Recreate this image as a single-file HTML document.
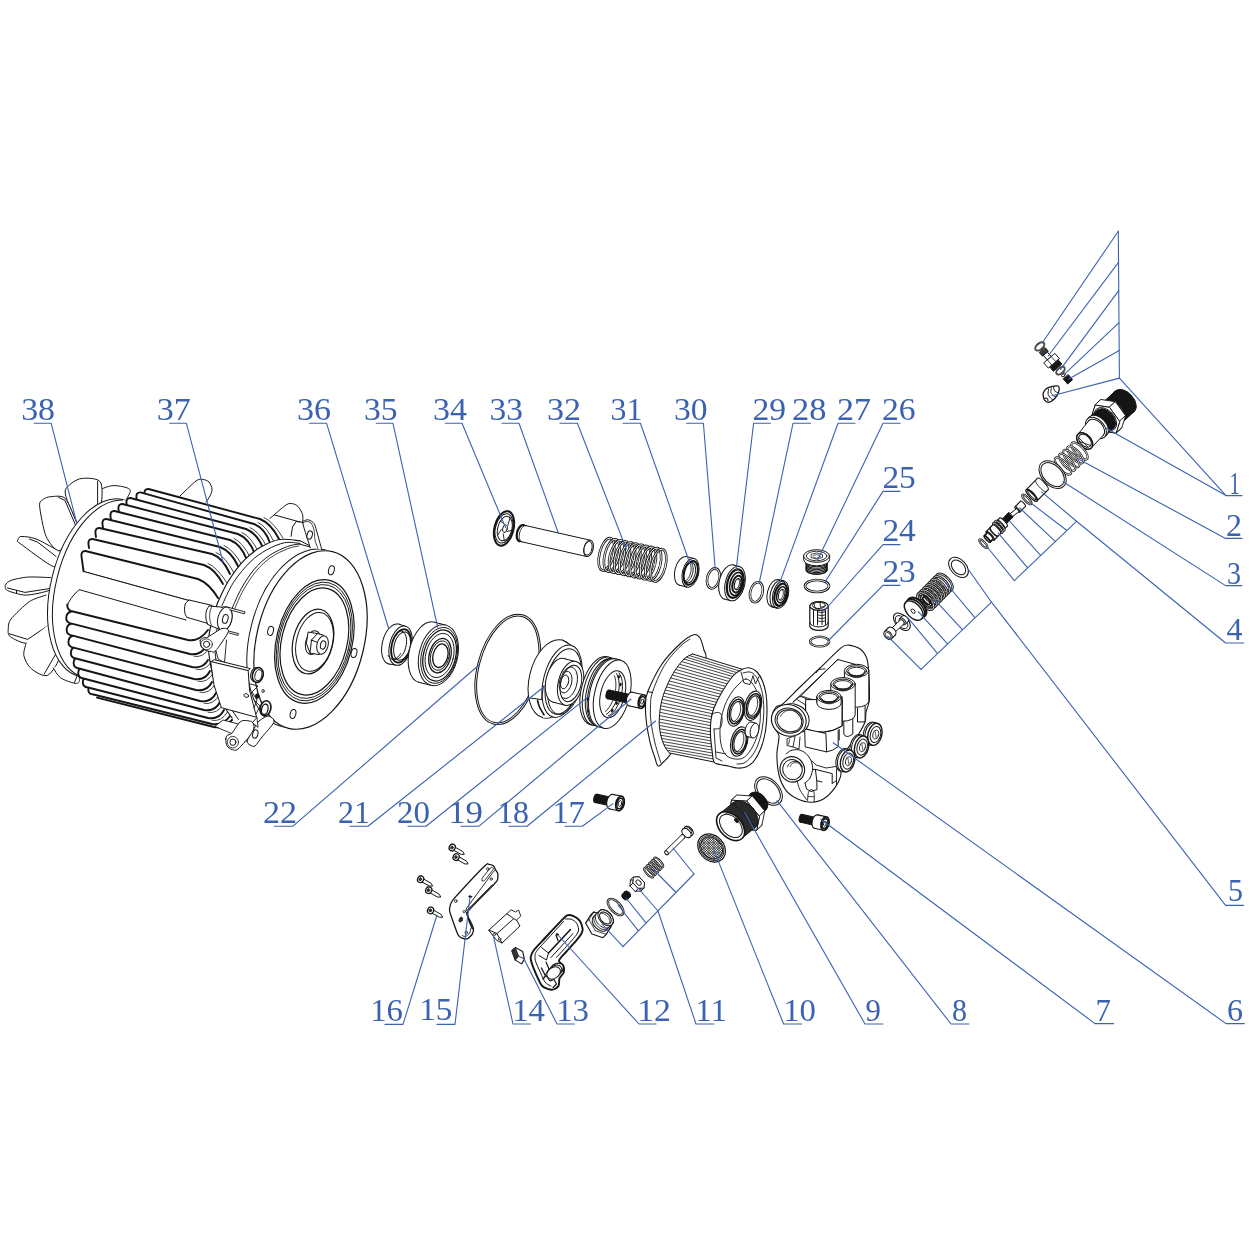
<!DOCTYPE html>
<html><head><meta charset="utf-8"><title>Exploded view</title>
<style>html,body{margin:0;padding:0;background:#fff}svg{display:block;will-change:transform}</style></head>
<body><svg width="1250" height="1250" viewBox="0 0 1250 1250" stroke-linecap="round" stroke-linejoin="round">
<rect width="1250" height="1250" fill="#fff"/>
<path d="M100.8 492 C100.9 491.6 99 490.4 101.2 489.3 C103.4 488.2 109.2 485.6 114 485.6 C118.8 485.6 127.5 487.2 129.7 489.3 C131.9 491.4 127.5 496.6 127 498" fill="white" stroke="#151515" stroke-width="1"/>
<path d="M77.3 524 C75.5 519.5 66.3 500 65.3 494 C64.3 488 68.2 486.2 70.8 483.8 C73.4 481.4 78.4 478.6 82.8 478.3 C87.2 478 97.6 478 100.3 482 C103 486 102.3 500.1 100.8 505 C99.3 509.9 91.6 513.5 90 515" fill="white" stroke="#151515" stroke-width="1"/>
<path d="M97.6 481.5 L97.6 505" fill="none" stroke="#151515" stroke-width="1"/>
<path d="M77.3 524.3 C75.7 520.9 68.9 502.2 65.3 498.5 C61.7 494.8 53.5 496.6 50.6 496.7 C47.7 496.8 44.7 498.2 43.2 499.4 C41.7 500.6 39.2 501 39.6 505.9 C40 510.8 43.4 530.2 46 536.2 C48.6 542.2 55.7 551.2 58.9 551 C62.1 550.8 68.5 537.1 70 535" fill="white" stroke="#151515" stroke-width="1"/>
<path d="M58.5 497.3 L65 500.5 L75.5 525" fill="none" stroke="#151515" stroke-width="1"/>
<path d="M58.9 551 C56.5 549.7 42 541.6 38.6 540 C35.2 538.4 31.5 537.6 29.4 537.2 C27.3 536.8 21.6 536.2 20.2 536.6 C18.8 537 17.5 540 17.5 540.8 C17.5 541.6 16 540.6 20.2 543.6 C24.4 546.6 48.5 565.2 53.4 566.6 C58.3 568 61 557.2 62 556" fill="white" stroke="#151515" stroke-width="1"/>
<path d="M29.4 539 L37.7 542.2 L56.1 556.5" fill="none" stroke="#151515" stroke-width="1"/>
<path d="M50.6 577.6 C47.5 577.5 32.9 576.7 27.6 577.1 C22.3 577.5 13.9 579.3 11 580.4 C8.1 581.5 6 583.7 5.5 585 C5 586.3 4.7 589.2 7.4 590.5 C10.1 591.8 20.3 595.1 25.8 595.1 C31.3 595.1 45.3 592 48.8 590.5 C52.3 589 51.6 584.9 52 584" fill="white" stroke="#151515" stroke-width="1"/>
<path d="M7.4 588 L25 592.4 L48.8 588.7" fill="none" stroke="#151515" stroke-width="1"/>
<path d="M16.5 590.5 L16.5 593" fill="none" stroke="#151515" stroke-width="1"/>
<path d="M46 595.1 C43.8 596 34.1 598.4 29.4 601.6 C24.7 604.8 13.8 615.5 11 619 C8.2 622.5 8.4 625.9 8.3 628.2 C8.2 630.5 7.4 634.5 10.1 636.5 C12.8 638.5 23.3 644.6 28.5 643 C33.7 641.4 45.7 628.7 48.8 624.6 C51.9 620.5 51.6 613.7 52 612" fill="white" stroke="#151515" stroke-width="1"/>
<path d="M9.2 633.7 L27.6 639.4 L48.2 625.5" fill="none" stroke="#151515" stroke-width="1"/>
<path d="M26 643.5 C25.7 645.3 23.1 652 23.9 655.8 C24.7 659.6 27.7 665.8 31.3 668.7 C34.9 671.6 43.5 677.4 47.8 675.2 C52.1 673 59.6 661.6 59.8 654 C59.9 646.4 50.4 629 48.8 624.6" fill="white" stroke="#151515" stroke-width="1"/>
<path d="M44.2 674 L57.5 651" fill="none" stroke="#151515" stroke-width="1"/>
<path d="M53.4 668 C54.5 669.5 57.2 675.6 60.7 677.9 C64.2 680.2 73.6 683.5 76.4 683.4 C79.2 683.3 80.1 680.5 79.1 677 C78.1 673.5 71.4 662.5 70 660" fill="white" stroke="#151515" stroke-width="1"/>
<path d="M74.5 682.5 L77 676" fill="none" stroke="#151515" stroke-width="1"/>
<ellipse cx="101" cy="588" rx="50.1" ry="91" transform="rotate(14 101 588)" fill="white" stroke="#151515" stroke-width="1"/>
<ellipse cx="105.9" cy="589.2" rx="50.1" ry="91" transform="rotate(14 105.9 589.2)" fill="white" stroke="#151515" stroke-width="1"/>
<path d="M123 499.7 L306.2 540.9 L259.8 727.1 L83.8 677.5Z" fill="white" stroke="none" stroke-width="0"/>
<path d="M180 496 C182.4 493.8 192.6 483.5 196 481 C199.4 478.5 201.1 479.4 203 479.5 C204.9 479.6 207.7 480.6 209 482 C210.3 483.4 211.8 486.9 212 489 C212.2 491.1 210.9 494.1 210 496 C209.1 497.9 206.6 501.1 206 502" fill="white" stroke="#151515" stroke-width="1"/>
<path d="M270 518.4 C272.4 516.4 282.6 507.2 286 505 C289.4 502.8 290.6 503.5 292.4 503.7 C294.2 503.9 296.5 504.9 298 506.5 C299.5 508.1 301.9 512.1 302.6 514.6 C303.3 517.1 302.6 521.7 302.6 523" fill="white" stroke="#151515" stroke-width="1"/>
<path d="M274.5 515 L300 522" fill="none" stroke="#151515" stroke-width="1"/>
<path d="M148.5 489 L260 519 Q271 523.4 279 539 L281 565 L146.8 515 L144.6 495 Q144 489.4 148.5 489 L148.5 489 Z" fill="white" stroke="none" stroke-width="0"/>
<path d="M279 539 Q271 523.4 260 519 L148.5 489 Q143.8 488.8 144.5 494.5 L145 498" fill="none" stroke="#151515" stroke-width="1.9"/>
<path d="M283 538 Q273 521.4 264 517.5" fill="none" stroke="#151515" stroke-width="0.8"/>
<path d="M140.5 492.4 L254 524 Q265 528.5 270 543 L272 569 L138.8 518.4 L136.6 498.4 Q136 492.8 140.5 492.4 L140.5 492.4 Z" fill="white" stroke="none" stroke-width="0"/>
<path d="M270 543 Q265 528.5 254 524 L140.5 492.4 Q135.8 492.2 136.5 497.9 L137 501.4" fill="none" stroke="#151515" stroke-width="1.9"/>
<path d="M274 542 Q267 526.5 258 522.5" fill="none" stroke="#151515" stroke-width="0.8"/>
<path d="M130.5 498 L246 529 Q257 533.4 263 548 L265 574 L128.8 524 L126.6 504 Q126 498.4 130.5 498 L130.5 498 Z" fill="white" stroke="none" stroke-width="0"/>
<path d="M263 548 Q257 533.4 246 529 L130.5 498 Q125.8 497.8 126.5 503.5 L127 507" fill="none" stroke="#151515" stroke-width="1.9"/>
<path d="M267 547 Q259 531.4 250 527.5" fill="none" stroke="#151515" stroke-width="0.8"/>
<path d="M122.5 504 L238 534 Q249 538.3 255 554 L257 580 L120.8 530 L118.6 510 Q118 504.4 122.5 504 L122.5 504 Z" fill="white" stroke="none" stroke-width="0"/>
<path d="M255 554 Q249 538.3 238 534 L122.5 504 Q117.8 503.8 118.5 509.5 L119 513" fill="none" stroke="#151515" stroke-width="1.9"/>
<path d="M259 553 Q251 536.3 242 532.5" fill="none" stroke="#151515" stroke-width="0.8"/>
<path d="M114.5 511 L230 540 Q241 544.2 247 560 L249 586 L112.8 537 L110.6 517 Q110 511.4 114.5 511 L114.5 511 Z" fill="white" stroke="none" stroke-width="0"/>
<path d="M247 560 Q241 544.2 230 540 L114.5 511 Q109.8 510.8 110.5 516.5 L111 520" fill="none" stroke="#151515" stroke-width="1.9"/>
<path d="M251 559 Q243 542.2 234 538.5" fill="none" stroke="#151515" stroke-width="0.8"/>
<path d="M106.5 519 L220 547 Q231 551.2 238 566 L240 592 L104.8 545 L102.6 525 Q102 519.4 106.5 519 L106.5 519 Z" fill="white" stroke="none" stroke-width="0"/>
<path d="M238 566 Q231 551.2 220 547 L106.5 519 Q101.8 518.8 102.5 524.5 L103 528" fill="none" stroke="#151515" stroke-width="1.9"/>
<path d="M242 565 Q233 549.2 224 545.5" fill="none" stroke="#151515" stroke-width="0.8"/>
<path d="M99.5 528 L212 554 Q223 558 230 574 L232 600 L97.8 554 L95.6 534 Q95 528.4 99.5 528 L99.5 528 Z" fill="white" stroke="none" stroke-width="0"/>
<path d="M230 574 Q223 558 212 554 L99.5 528 Q94.8 527.8 95.5 533.5 L96 537" fill="none" stroke="#151515" stroke-width="1.9"/>
<path d="M234 573 Q225 556 216 552.5" fill="none" stroke="#151515" stroke-width="0.8"/>
<path d="M92.5 539 L204 565 Q215 569.1 223 584 L225 610 L90.8 565 L88.6 545 Q88 539.4 92.5 539 L92.5 539 Z" fill="white" stroke="none" stroke-width="0"/>
<path d="M223 584 Q215 569.1 204 565 L92.5 539 Q87.8 538.8 88.5 544.5 L89 548" fill="none" stroke="#151515" stroke-width="1.9"/>
<path d="M227 583 Q217 567.1 208 563.5" fill="none" stroke="#151515" stroke-width="0.8"/>
<path d="M85.5 551 L198 579 Q209 583.2 218 598 L220 618.5 L83.8 571.5 L81.6 557 Q81 551.4 85.5 551 L85.5 551 Z" fill="white" stroke="none" stroke-width="0"/>
<path d="M218 598 Q209 583.2 198 579 L85.5 551 Q80.8 550.8 81.5 556.5 L83.6 571.5" fill="none" stroke="#151515" stroke-width="1.9"/>
<path d="M83.7 571.5 L216 608" fill="none" stroke="#151515" stroke-width="1"/>
<path d="M79.1 589.6 L83.7 571.5 L216 608 L226 640 L190 640Z" fill="white" stroke="none" stroke-width="0"/>
<path d="M83.7 571.5 L216 608" fill="none" stroke="#151515" stroke-width="1"/>
<path d="M97 697.6 L214 727 Q224 729 232 720" fill="white" stroke="#151515" stroke-width="1.9"/>
<path d="M93.5 694.5 L212 724 Q223 725.7 230 716 L228 692 L94.3 669.8 Q88.3 682.8 88.3 690.8 Q88.6 694.8 93.5 694.5 Z" fill="white" stroke="none" stroke-width="0"/>
<path d="M230 716 Q223 725.7 212 724 L93.5 694.5 Q88.5 694.4 88.3 690 Q88.3 684.8 93.3 683.3" fill="none" stroke="#151515" stroke-width="1.9"/>
<path d="M233.5 718 Q225 728.2 216 726.3" fill="none" stroke="#151515" stroke-width="0.8"/>
<path d="M88 687.5 L208 718 Q219 719.8 224 710 L222 686 L88.8 662.4 Q82.8 675.4 82.8 683.4 Q83.1 687.4 88 687.5 Z" fill="white" stroke="none" stroke-width="0"/>
<path d="M224 710 Q219 719.8 208 718 L88 687.5 Q83 687 82.8 682.6 Q82.8 677.4 87.8 675.9" fill="none" stroke="#151515" stroke-width="1.9"/>
<path d="M227.5 712 Q221 722.3 212 720.3" fill="none" stroke="#151515" stroke-width="0.8"/>
<path d="M83.5 678.5 L204 710 Q215 711.9 220 702 L218 678 L84.2 653 Q78.2 666 78.2 674 Q78.5 678 83.5 678.5 Z" fill="white" stroke="none" stroke-width="0"/>
<path d="M220 702 Q215 711.9 204 710 L83.5 678.5 Q78.4 677.6 78.2 673.2 Q78.2 668 83.2 666.5" fill="none" stroke="#151515" stroke-width="1.9"/>
<path d="M223.5 704 Q217 714.4 208 712.3" fill="none" stroke="#151515" stroke-width="0.8"/>
<path d="M79 668.5 L200 701 Q211 703 216 693 L214 669 L79.6 643 Q73.6 656 73.6 664 Q73.9 668 79 668.5 Z" fill="white" stroke="none" stroke-width="0"/>
<path d="M216 693 Q211 703 200 701 L79 668.5 Q73.8 667.6 73.6 663.2 Q73.6 658 78.6 656.5" fill="none" stroke="#151515" stroke-width="1.9"/>
<path d="M219.5 695 Q213 705.5 204 703.3" fill="none" stroke="#151515" stroke-width="0.8"/>
<path d="M76 658.5 L196 690 Q207 691.9 212 682 L210 658 L76.8 633 Q70.8 646 70.8 654 Q71.1 658 76 658.5 Z" fill="white" stroke="none" stroke-width="0"/>
<path d="M212 682 Q207 691.9 196 690 L76 658.5 Q71 657.6 70.8 653.2 Q70.8 648 75.8 646.5" fill="none" stroke="#151515" stroke-width="1.9"/>
<path d="M215.5 684 Q209 694.4 200 692.3" fill="none" stroke="#151515" stroke-width="0.8"/>
<path d="M73.6 647.6 L194 679 Q205 680.9 210 671 L208 647 L74.4 622 Q68.4 635 68.4 643 Q68.7 647 73.6 647.6 Z" fill="white" stroke="none" stroke-width="0"/>
<path d="M210 671 Q205 680.9 194 679 L73.6 647.6 Q68.6 646.6 68.4 642.2 Q68.4 637 73.4 635.5" fill="none" stroke="#151515" stroke-width="1.9"/>
<path d="M213.5 673 Q207 683.4 198 681.3" fill="none" stroke="#151515" stroke-width="0.8"/>
<path d="M72.7 635.6 L192 667 Q203 668.9 208 660 L206 636 L72.6 610 Q66.6 623 66.6 631 Q66.9 635 72.7 635.6 Z" fill="white" stroke="none" stroke-width="0"/>
<path d="M208 660 Q203 668.9 192 667 L72.7 635.6 Q66.8 634.6 66.6 630.2 Q66.6 625 71.6 623.5" fill="none" stroke="#151515" stroke-width="1.9"/>
<path d="M211.5 662 Q205 671.4 196 669.3" fill="none" stroke="#151515" stroke-width="0.8"/>
<path d="M71.8 623.6 L190 654 Q201 655.8 206 646 L204 622 L72.2 598 Q66.2 611 66.2 619 Q66.5 623 71.8 623.6 Z" fill="white" stroke="none" stroke-width="0"/>
<path d="M206 646 Q201 655.8 190 654 L71.8 623.6 Q66.4 622.6 66.2 618.2 Q66.2 613 71.2 611.5" fill="none" stroke="#151515" stroke-width="1.9"/>
<path d="M209.5 648 Q203 658.3 194 656.3" fill="none" stroke="#151515" stroke-width="0.8"/>
<path d="M71 611 L188 640 Q199 641.7 208 630 L206 606 L73.2 585.2 Q67.2 598.2 67.2 606.2 Q67.5 610.2 71 611 Z" fill="white" stroke="none" stroke-width="0"/>
<path d="M186 620 L79.1 589.6 Q69.5 598.5 67.2 605.7" fill="none" stroke="#151515" stroke-width="1"/>
<path d="M67.3 604.5 Q67 609.5 71 611 L188 640 Q199 642 208 630" fill="none" stroke="#151515" stroke-width="1.9"/>
<path d="M189 600 L212 605.4 L208 623.5 L187 617.3Z" fill="white" stroke="none" stroke-width="0"/>
<path d="M189 600 L212 605.4" fill="none" stroke="#151515" stroke-width="1"/>
<path d="M187 617.3 L208 623.5" fill="none" stroke="#151515" stroke-width="1"/>
<path d="M189 600 C188.4 600.7 186.1 602.4 185.3 604 C184.6 605.6 184.5 607.8 184.5 609.5 C184.5 611.2 184.9 613.2 185.3 614.5 C185.7 615.8 186.7 616.8 187 617.3" fill="none" stroke="#151515" stroke-width="1"/>
<path d="M217.5 603 C219.3 599.3 223.8 588.3 228.4 581 C233 573.7 239.4 565.1 245 559.4 C250.6 553.7 255.9 549.9 261.7 546.6 C267.5 543.3 273.2 540.5 279.6 539.5 C286 538.5 296.6 540.6 300 540.8 L325.5 550 L334.2 553.6 L342 559.8 L348.6 568.3 L353.9 579 L357.6 591.5 L359.6 605.4 L360 620.3 L358.6 635.8 L355.6 651.3 L351 666.4 L344.9 680.7 L337.6 693.7 L329.3 705 L320.1 714.3 L310.5 721.3 L300.6 725.7 L290.9 727.5 L281.5 726.6 L270 731 L258 731 L244 727 L232 718 L224 706 L217 690 L212 672 L209 655 L208.5 640 L212 620 L217.5 603Z" fill="white" stroke="none" stroke-width="0"/>
<path d="M217.5 603 C219.3 599.3 223.8 588.3 228.4 581 C233 573.7 239.4 565.1 245 559.4 C250.6 553.7 255.9 549.9 261.7 546.6 C267.5 543.3 273.2 540.5 279.6 539.5 C286 538.5 296.6 540.6 300 540.8" fill="none" stroke="#151515" stroke-width="1.2"/>
<path d="M222 605.4 C223.9 601.6 228.8 589.6 233.5 582.4 C238.2 575.2 244.6 567.4 250.2 562 C255.8 556.6 261.1 553 266.8 549.8 C272.6 546.6 279.2 543.8 284.7 542.7 C290.2 541.6 297.4 543.3 300 543.4" fill="none" stroke="#151515" stroke-width="1"/>
<path d="M232.2 608 C233.7 604.8 237.6 595.2 241.2 588.8 C244.8 582.4 249.3 575.1 254 569.6 C258.7 564.1 263.8 559.3 269.4 555.5 C274.9 551.7 282.4 548.5 287.3 546.6 C292.2 544.7 296.9 544.4 298.8 544" fill="none" stroke="#151515" stroke-width="1"/>
<path d="M234.6 609 C236.1 605.8 239.8 596.3 243.4 590 C247 583.7 251.4 576.7 256 571.2 C260.6 565.8 265.7 561.1 271 557.3 C276.3 553.5 283.4 550.5 288 548.6 C292.6 546.7 297 546.4 298.8 546" fill="none" stroke="#151515" stroke-width="0.8"/>
<path d="M217.5 603 C216.6 605.8 213.5 613.8 212 620 C210.5 626.2 209 634.2 208.5 640 C208 645.8 208.4 649.7 209 655 C209.6 660.3 210.7 666.2 212 672 C213.3 677.8 215 684.3 217 690 C219 695.7 221.5 701.3 224 706 C226.5 710.7 230.7 716 232 718" fill="none" stroke="#151515" stroke-width="1.1"/>
<path d="M218.5 621.5 C217.9 624.8 215.5 635.7 215 641.5 C214.5 647.3 214.9 651.2 215.5 656.5 C216.1 661.8 217.2 667.7 218.5 673.5 C219.8 679.3 221.5 685.8 223.5 691.5 C225.5 697.2 228 702.8 230.5 707.5 C233 712.2 237.2 717.5 238.5 719.5" fill="none" stroke="#151515" stroke-width="1"/>
<path d="M298.8 544 L321.8 549.8" fill="none" stroke="#151515" stroke-width="1"/>
<ellipse cx="303.5" cy="638.3" rx="53.7" ry="91" transform="rotate(14 303.5 638.3)" fill="white" stroke="#151515" stroke-width="1"/>
<path d="M325.5 550 L332.5 551.7 L288.5 728.3 L281.5 726.6Z" fill="white" stroke="none" stroke-width="0"/>
<ellipse cx="310.5" cy="640" rx="53.7" ry="91" transform="rotate(14 310.5 640)" fill="white" stroke="#151515" stroke-width="1.2"/>
<ellipse cx="331.4" cy="570.2" rx="2.8" ry="4.6" transform="rotate(14 331.4 570.2)" fill="white" stroke="#151515" stroke-width="1"/>
<ellipse cx="354" cy="653" rx="2.8" ry="4.6" transform="rotate(14 354 653)" fill="white" stroke="#151515" stroke-width="1"/>
<ellipse cx="293" cy="714" rx="2.8" ry="4.6" transform="rotate(14 293 714)" fill="white" stroke="#151515" stroke-width="1"/>
<ellipse cx="270.6" cy="630.9" rx="2.8" ry="4.6" transform="rotate(14 270.6 630.9)" fill="white" stroke="#151515" stroke-width="1"/>
<ellipse cx="314.4" cy="641.5" rx="37.8" ry="63" transform="rotate(14 314.4 641.5)" fill="none" stroke="#151515" stroke-width="1.2"/>
<ellipse cx="314.4" cy="641.5" rx="36.3" ry="60.5" transform="rotate(14 314.4 641.5)" fill="none" stroke="#151515" stroke-width="0.9"/>
<ellipse cx="314.4" cy="641.5" rx="34.8" ry="58" transform="rotate(14 314.4 641.5)" fill="none" stroke="#151515" stroke-width="0.9"/>
<ellipse cx="314.4" cy="641.5" rx="32.7" ry="54.5" transform="rotate(14 314.4 641.5)" fill="none" stroke="#151515" stroke-width="1.2"/>
<ellipse cx="313" cy="641.5" rx="19.8" ry="33" transform="rotate(14 313 641.5)" fill="none" stroke="#151515" stroke-width="1.2"/>
<ellipse cx="314.5" cy="641.9" rx="18" ry="30" transform="rotate(14 314.5 641.9)" fill="none" stroke="#151515" stroke-width="1"/>
<ellipse cx="313" cy="642.6" rx="7.4" ry="12" transform="rotate(14 313 642.6)" fill="white" stroke="#151515" stroke-width="1"/>
<path d="M308.5 632.1 L317.5 633.6 L323.5 635.1 L324 650.6 L319 654.6 L310 653.1 L306.5 643.6Z" fill="white" stroke="#151515" stroke-width="1"/>
<path d="M317.5 633.6 L311.5 640.1" fill="none" stroke="#151515" stroke-width="1"/>
<path d="M311.5 640.1 L310 653.1" fill="none" stroke="#151515" stroke-width="1"/>
<path d="M311.5 640.1 L318 642.6" fill="none" stroke="#151515" stroke-width="1"/>
<ellipse cx="322.5" cy="645" rx="5.6" ry="9.3" transform="rotate(14 322.5 645)" fill="white" stroke="#151515" stroke-width="1"/>
<ellipse cx="323.1" cy="645" rx="2.6" ry="4.2" transform="rotate(14 323.1 645)" fill="white" stroke="#151515" stroke-width="1"/>
<path d="M310.3 547.8 C309.2 544.2 303.8 528.1 303 524 C302.2 519.9 304.1 521.1 305 520.5 C305.9 519.9 307.6 519.5 309 520 C310.4 520.5 312.8 521.8 314 523.5 C315.2 525.2 315.5 527.3 316.7 531.2 C317.9 535.1 321 547 321.8 549.8" fill="white" stroke="#151515" stroke-width="1"/>
<ellipse cx="309.7" cy="535" rx="2.6" ry="4.2" transform="rotate(14 309.7 535)" fill="white" stroke="#151515" stroke-width="1"/>
<path d="M302.6 523 C303.1 522.8 304.7 521.5 306 521.5 C307.3 521.5 309.8 521.7 311 523 C312.2 524.3 313.4 527.5 314 530 C314.6 532.5 314.4 537.1 315 540 C315.6 542.9 317.6 547.6 318 549" fill="none" stroke="#151515" stroke-width="0.8"/>
<path d="M291.1 536.3 L292.5 527 L296 521.5 L302.6 522.2" fill="none" stroke="#151515" stroke-width="1"/>
<path d="M300.5 541 L309 545.3" fill="none" stroke="#151515" stroke-width="1"/>
<ellipse cx="224.8" cy="618.9" rx="7" ry="12" transform="rotate(14 224.8 618.9)" fill="white" stroke="#151515" stroke-width="1"/>
<ellipse cx="222.8" cy="618.4" rx="7" ry="12" transform="rotate(14 222.8 618.4)" fill="white" stroke="#151515" stroke-width="0.9"/>
<path d="M209.2 606 L222 608 L220 630 L208 624.6Z" fill="white" stroke="none" stroke-width="0"/>
<ellipse cx="224.8" cy="618.9" rx="7" ry="12" transform="rotate(14 224.8 618.9)" fill="white" stroke="#151515" stroke-width="1"/>
<path d="M209.2 606 L222.5 607.2" fill="none" stroke="#151515" stroke-width="1"/>
<path d="M208 624.6 L219.5 629.4" fill="none" stroke="#151515" stroke-width="1"/>
<path d="M209.2 606 C208.8 606.7 207.2 608.4 206.6 610 C206 611.6 205.9 613.8 205.8 615.5 C205.8 617.2 205.9 619 206.3 620.5 C206.7 622 207.7 623.9 208 624.6" fill="none" stroke="#151515" stroke-width="1"/>
<path d="M212.2 606.3 C211.9 606.9 210.8 608.5 210.4 610 C210 611.5 209.7 613.8 209.6 615.5 C209.5 617.2 209.7 618.9 210 620.5 C210.3 622.1 211.2 624.5 211.5 625.3" fill="none" stroke="#151515" stroke-width="0.8"/>
<ellipse cx="225.3" cy="618.9" rx="2.7" ry="4.5" transform="rotate(14 225.3 618.9)" fill="white" stroke="#151515" stroke-width="1"/>
<path d="M228.4 607.4 L245 611.8 L244.4 613.8 L229.7 609.8" fill="white" stroke="#151515" stroke-width="0.9"/>
<path d="M228.4 631 L238.6 633.6 L238 635.4 L229 633" fill="white" stroke="#151515" stroke-width="0.9"/>
<path d="M200.2 640.5 C199.9 641.6 200.4 644.7 201 646 C201.6 647.3 203.7 649.3 205 650 C206.3 650.7 209.5 651.4 211 651.5 C212.5 651.6 213.7 653.2 216 650.5 C218.3 647.8 227.6 634.4 228.4 631.5 C229.2 628.6 224.7 627.9 222 628.6 C219.3 629.3 210.5 635.7 208 637 C205.5 638.3 204 637.5 203 638 C202 638.5 200.5 639.4 200.2 640.5Z" fill="white" stroke="#151515" stroke-width="1"/>
<ellipse cx="206.6" cy="644.3" rx="3.1" ry="3.1" fill="white" stroke="#151515" stroke-width="1"/>
<ellipse cx="206.6" cy="644.3" rx="5.8" ry="5.4" fill="none" stroke="#151515" stroke-width="0.8"/>
<path d="M216 650.5 L218 659 L224.5 662.5 L226.5 640" fill="white" stroke="#151515" stroke-width="0.9"/>
<path d="M211 661.6 L214.3 659.7 L250.2 668.6 L248.2 670.6Z" fill="white" stroke="#151515" stroke-width="1"/>
<path d="M211 661.6 L248.2 670.6 L249.5 690 L256.6 717.3 L221.4 707.7 L214 685Z" fill="white" stroke="#151515" stroke-width="1"/>
<ellipse cx="246.3" cy="695.5" rx="2.4" ry="1.8" transform="rotate(20 246.3 695.5)" fill="white" stroke="#151515" stroke-width="0.9"/>
<ellipse cx="255.6" cy="674.5" rx="4.8" ry="7.2" transform="rotate(14 255.6 674.5)" fill="white" stroke="#151515" stroke-width="1"/>
<ellipse cx="257.8" cy="675" rx="5.3" ry="7.5" transform="rotate(14 257.8 675)" fill="white" stroke="#151515" stroke-width="1.6"/>
<ellipse cx="258.4" cy="675.2" rx="3.4" ry="5.6" transform="rotate(14 258.4 675.2)" fill="white" stroke="#151515" stroke-width="1"/>
<path d="M250 684 L258 686 L252 692 L257 700 L254 708" fill="none" stroke="#151515" stroke-width="0.9"/>
<ellipse cx="257.2" cy="696.2" rx="1.8" ry="2.4" fill="#151515" stroke="#151515" stroke-width="0.8"/>
<ellipse cx="263" cy="691" rx="1.2" ry="1.6" fill="white" stroke="#151515" stroke-width="0.8"/>
<ellipse cx="265.5" cy="708.3" rx="5.3" ry="7.6" transform="rotate(14 265.5 708.3)" fill="white" stroke="#151515" stroke-width="1.6"/>
<ellipse cx="264.8" cy="709.3" rx="3.2" ry="5.2" transform="rotate(14 264.8 709.3)" fill="white" stroke="#151515" stroke-width="1.3"/>
<path d="M254 700 L260 706 L256 714" fill="none" stroke="#151515" stroke-width="0.9"/>
<path d="M215 726.2 L223 720 L246 726 L236 735Z" fill="white" stroke="#151515" stroke-width="0.9"/>
<path d="M225.8 739 C225.8 740.4 226.2 744.6 227 746 C227.8 747.4 230.5 749.1 232 749.5 C233.5 749.9 235.2 751.3 238 749 C240.8 746.7 250.7 735.5 252.7 732 C254.7 728.5 254.2 723.9 252.7 722.4 C251.2 720.9 244 719.7 241.2 721.1 C238.4 722.5 233.9 731.1 232 733 C230.1 734.9 227.8 734.7 227 735.5 C226.2 736.3 225.8 737.6 225.8 739Z" fill="white" stroke="#151515" stroke-width="1"/>
<ellipse cx="232.9" cy="742.2" rx="3" ry="3.2" fill="white" stroke="#151515" stroke-width="1"/>
<ellipse cx="232.9" cy="742.2" rx="5.6" ry="5.8" fill="none" stroke="#151515" stroke-width="0.8"/>
<path d="M247 741 C246.6 742.9 248.9 744.3 250 745 C251.1 745.7 253.4 747.1 255 746 C256.6 744.9 259.5 740.2 262 737 C264.5 733.8 273.2 724.8 274 722 C274.8 719.2 270.1 716 268 716 C265.9 716 260 720 258 722 C256 724 254.5 728.5 253 731 C251.5 733.5 247.4 739.1 247 741Z" fill="white" stroke="#151515" stroke-width="1"/>
<ellipse cx="255.3" cy="734" rx="2.6" ry="4.2" transform="rotate(14 255.3 734)" fill="white" stroke="#151515" stroke-width="1"/>
<path d="M252.7 722.4 L257 717.5 L258 727Z" fill="white" stroke="#151515" stroke-width="0.9"/>
<ellipse cx="393.6" cy="644" rx="11.3" ry="20.5" transform="rotate(14 393.6 644)" fill="white" stroke="#151515" stroke-width="1"/>
<path d="M398.6 624.1 L405.4 626.3 L395.8 665.1 L388.6 663.9Z" fill="white" stroke="none" stroke-width="0"/>
<path d="M398.6 624.1 L405.4 626.3" fill="none" stroke="#151515" stroke-width="1"/>
<path d="M388.6 663.9 L395.8 665.1" fill="none" stroke="#151515" stroke-width="1"/>
<ellipse cx="400.6" cy="645.7" rx="11" ry="20" transform="rotate(14 400.6 645.7)" fill="white" stroke="#151515" stroke-width="1"/>
<ellipse cx="401.1" cy="645.9" rx="9.4" ry="17" transform="rotate(14 401.1 645.9)" fill="white" stroke="#151515" stroke-width="1.8"/>
<ellipse cx="402.1" cy="646.1" rx="8" ry="14.5" transform="rotate(14 402.1 646.1)" fill="white" stroke="#151515" stroke-width="1"/>
<path d="M398.7 631.3 C399 631.3 399.8 631 400.4 631 C400.9 631 401.4 631.1 401.9 631.2 C402.4 631.4 402.8 631.6 403.3 631.9 C403.7 632.2 404.1 632.7 404.5 633.1 C404.8 633.6 405.1 634.2 405.4 634.8 C405.7 635.4 405.9 636.1 406.1 636.8 C406.3 637.5 406.4 638.3 406.5 639.2 C406.6 640 406.6 640.8 406.6 641.7 C406.6 642.6 406.5 643.5 406.4 644.4 C406.2 645.3 406.1 646.2 405.8 647.1 C405.6 648 405.3 648.9 405 649.8 C404.7 650.6 404.4 651.5 404 652.3 C403.6 653 403.1 653.8 402.7 654.5 C402.2 655.2 401.7 655.8 401.2 656.4 C400.7 656.9 400.2 657.4 399.7 657.8 C399.1 658.2 398.6 658.6 398 658.8 C397.5 659.1 397 659.3 396.4 659.3 C395.9 659.4 395.4 659.4 394.9 659.3 C394.4 659.2 393.9 659.1 393.4 658.8 C393 658.5 392.4 657.9 392.2 657.8" fill="none" stroke="#151515" stroke-width="1"/>
<path d="M400.7 653.5 C400.6 653.7 400.3 654.1 400.1 654.4 C399.9 654.7 399.7 655 399.5 655.3 C399.3 655.6 399 655.8 398.8 656.1 C398.6 656.3 398.3 656.6 398.1 656.8 C397.9 657 397.6 657.2 397.4 657.4 C397.2 657.6 396.9 657.8 396.7 658 C396.4 658.1 396.2 658.3 396 658.4 C395.7 658.5 395.5 658.6 395.2 658.7 C395 658.8 394.7 658.9 394.5 659 C394.3 659.1 394 659.1 393.8 659.1 C393.6 659.2 393.3 659.2 393.1 659.2 C392.9 659.2 392.6 659.2 392.4 659.1 C392.2 659.1 391.9 659.1 391.7 659 C391.5 658.9 391.3 658.8 391.1 658.7 C390.9 658.6 390.7 658.5 390.5 658.4 C390.3 658.3 390.1 658.1 389.9 657.9 C389.7 657.8 389.5 657.6 389.4 657.4 C389.2 657.2 389 657 388.9 656.8 C388.7 656.6 388.6 656.3 388.4 656.1 C388.3 655.8 388.1 655.4 388 655.3" fill="none" stroke="#151515" stroke-width="1"/>
<ellipse cx="426.4" cy="652.2" rx="17.1" ry="31" transform="rotate(14 426.4 652.2)" fill="white" stroke="#151515" stroke-width="1"/>
<path d="M433.9 622.1 L445.9 625.1 L430.9 685.3 L418.9 682.3Z" fill="white" stroke="none" stroke-width="0"/>
<path d="M433.9 622.1 L445.9 625.1" fill="none" stroke="#151515" stroke-width="1"/>
<path d="M418.9 682.3 L430.9 685.3" fill="none" stroke="#151515" stroke-width="1"/>
<ellipse cx="438.4" cy="655.2" rx="19.2" ry="31" transform="rotate(14 438.4 655.2)" fill="white" stroke="#151515" stroke-width="1"/>
<ellipse cx="439.2" cy="655.4" rx="17.7" ry="28.5" transform="rotate(14 439.2 655.4)" fill="none" stroke="#151515" stroke-width="0.9"/>
<ellipse cx="439.6" cy="655.5" rx="16.1" ry="26" transform="rotate(14 439.6 655.5)" fill="none" stroke="#151515" stroke-width="1.3"/>
<ellipse cx="439.6" cy="655.5" rx="13.9" ry="22.5" transform="rotate(14 439.6 655.5)" fill="none" stroke="#151515" stroke-width="0.9"/>
<ellipse cx="440" cy="655.6" rx="10.8" ry="17.5" transform="rotate(14 440 655.6)" fill="none" stroke="#151515" stroke-width="1.3"/>
<ellipse cx="440" cy="655.6" rx="9.3" ry="15" transform="rotate(14 440 655.6)" fill="none" stroke="#151515" stroke-width="0.9"/>
<ellipse cx="440.4" cy="655.7" rx="7.4" ry="12" transform="rotate(14 440.4 655.7)" fill="none" stroke="#151515" stroke-width="1.3"/>
<ellipse cx="507.8" cy="669.4" rx="30.5" ry="56.5" transform="rotate(15 507.8 669.4)" fill="white" stroke="#151515" stroke-width="1"/>
<ellipse cx="507.8" cy="669.4" rx="28.7" ry="54.7" transform="rotate(15 507.8 669.4)" fill="white" stroke="#151515" stroke-width="1"/>
<ellipse cx="552.6" cy="678.9" rx="23.2" ry="40" transform="rotate(14 552.6 678.9)" fill="white" stroke="#151515" stroke-width="1"/>
<path d="M562.3 640.1 L571 645.3 L553 717.1 L542.9 717.7Z" fill="white" stroke="none" stroke-width="0"/>
<path d="M562.3 640.1 L571 645.3" fill="none" stroke="#151515" stroke-width="1"/>
<ellipse cx="562" cy="681.2" rx="18.5" ry="37" transform="rotate(14 562 681.2)" fill="white" stroke="#151515" stroke-width="1"/>
<ellipse cx="563.2" cy="681.5" rx="16.8" ry="33.5" transform="rotate(14 563.2 681.5)" fill="white" stroke="#151515" stroke-width="1"/>
<path d="M579.9 691.6 C579.6 692.3 578.8 694.4 578.3 695.8 C577.7 697.1 577 698.5 576.4 699.7 C575.7 701 575 702.2 574.3 703.3 C573.6 704.4 572.8 705.5 572.1 706.5 C571.3 707.5 570.5 708.4 569.7 709.2 C568.9 710 568 710.7 567.2 711.4 C566.4 712 565.5 712.5 564.7 713 C563.9 713.4 563.1 713.7 562.2 714 C561.4 714.2 560.6 714.3 559.8 714.4 C559 714.4 558.3 714.3 557.5 714.1 C556.8 713.9 556.1 713.6 555.4 713.3 C554.7 712.9 554 712.4 553.4 711.8 C552.8 711.2 552.2 710.5 551.7 709.7 C551.2 709 550.7 708.1 550.2 707.1 C549.8 706.2 549.4 705.2 549.1 704.1 C548.8 703 548.5 701.8 548.3 700.6 C548 699.3 547.9 698 547.8 696.7 C547.7 695.4 547.6 694 547.6 692.5 C547.6 691.1 547.7 689.7 547.8 688.2 C547.9 686.7 548.3 684.5 548.3 683.7" fill="none" stroke="#151515" stroke-width="1"/>
<path d="M530.4 698 L541.6 699.6 L543.4 686" fill="none" stroke="#151515" stroke-width="1"/>
<path d="M537.6 700.4 C537.9 701.5 538.4 704.6 539.5 707 C540.6 709.4 543.2 713.5 544 714.8" fill="none" stroke="#151515" stroke-width="1.6"/>
<ellipse cx="558.5" cy="680.4" rx="12.4" ry="22.5" transform="rotate(14 558.5 680.4)" fill="white" stroke="#151515" stroke-width="1"/>
<path d="M563.9 658.6 L576 661.6 L565.2 705.2 L553.1 702.2Z" fill="white" stroke="none" stroke-width="0"/>
<path d="M563.9 658.6 L576 661.6" fill="none" stroke="#151515" stroke-width="1"/>
<path d="M553.1 702.2 L565.2 705.2" fill="none" stroke="#151515" stroke-width="1"/>
<ellipse cx="570.6" cy="683.4" rx="12.4" ry="22.5" transform="rotate(14 570.6 683.4)" fill="white" stroke="#151515" stroke-width="1"/>
<ellipse cx="570.9" cy="683.5" rx="10.2" ry="18.5" transform="rotate(14 570.9 683.5)" fill="white" stroke="#151515" stroke-width="1"/>
<path d="M562.6 673.2 C562.9 672.8 563.8 671.4 564.5 670.7 C565.1 669.9 565.8 669.3 566.5 668.7 C567.2 668.2 568 667.8 568.7 667.5 C569.4 667.3 570.1 667.1 570.7 667.1 C571.4 667.1 572.1 667.3 572.7 667.5 C573.3 667.8 573.9 668.2 574.4 668.7 C574.9 669.2 575.4 669.9 575.8 670.6 C576.2 671.3 576.6 672.2 576.8 673.1 C577.1 674 577.3 675.1 577.4 676.1 C577.5 677.2 577.5 678.3 577.4 679.5 C577.4 680.6 577.3 681.8 577 683 C576.8 684.2 576.5 685.4 576.2 686.5 C575.8 687.7 575.4 688.8 574.9 689.9 C574.4 690.9 573.9 691.9 573.3 692.8 C572.7 693.7 572.1 694.6 571.4 695.3 C570.7 696 570 696.6 569.3 697.1 C568.6 697.6 567.9 697.9 567.2 698.2 C566.5 698.4 565.8 698.5 565.1 698.5 C564.5 698.4 563.8 698.2 563.2 697.9 C562.6 697.6 561.8 696.9 561.5 696.7" fill="none" stroke="#151515" stroke-width="1"/>
<ellipse cx="565.6" cy="682.2" rx="6.1" ry="11" transform="rotate(14 565.6 682.2)" fill="none" stroke="#151515" stroke-width="0.9"/>
<ellipse cx="564.6" cy="681.9" rx="3.9" ry="7" transform="rotate(14 564.6 681.9)" fill="none" stroke="#151515" stroke-width="0.9"/>
<ellipse cx="598.8" cy="690.7" rx="17.5" ry="35" transform="rotate(14 598.8 690.7)" fill="white" stroke="#151515" stroke-width="1"/>
<ellipse cx="601.2" cy="691.3" rx="17.5" ry="35" transform="rotate(14 601.2 691.3)" fill="white" stroke="#151515" stroke-width="1"/>
<ellipse cx="603.7" cy="691.9" rx="17" ry="34" transform="rotate(14 603.7 691.9)" fill="white" stroke="#151515" stroke-width="1"/>
<ellipse cx="606.1" cy="692.5" rx="17.5" ry="35" transform="rotate(14 606.1 692.5)" fill="white" stroke="#151515" stroke-width="1"/>
<ellipse cx="616.2" cy="706" rx="1" ry="1.8" transform="rotate(14 616.2 706)" fill="#151515" stroke="#151515" stroke-width="0.5"/>
<ellipse cx="610" cy="716.1" rx="1" ry="1.8" transform="rotate(14 610 716.1)" fill="#151515" stroke="#151515" stroke-width="0.5"/>
<ellipse cx="602.7" cy="721.7" rx="1" ry="1.8" transform="rotate(14 602.7 721.7)" fill="#151515" stroke="#151515" stroke-width="0.5"/>
<ellipse cx="592.4" cy="719.1" rx="1" ry="1.8" transform="rotate(14 592.4 719.1)" fill="#151515" stroke="#151515" stroke-width="0.5"/>
<ellipse cx="588.7" cy="710.8" rx="1" ry="1.8" transform="rotate(14 588.7 710.8)" fill="#151515" stroke="#151515" stroke-width="0.5"/>
<ellipse cx="587.9" cy="698.9" rx="1" ry="1.8" transform="rotate(14 587.9 698.9)" fill="#151515" stroke="#151515" stroke-width="0.5"/>
<ellipse cx="607.5" cy="692.9" rx="17.5" ry="35" transform="rotate(14 607.5 692.9)" fill="white" stroke="#151515" stroke-width="1"/>
<path d="M616 658.9 L620.7 660.2 L603.7 728.2 L599.1 726.8Z" fill="white" stroke="none" stroke-width="0"/>
<path d="M616 658.9 L620.7 660.2" fill="none" stroke="#151515" stroke-width="1"/>
<path d="M599.1 726.8 L603.7 728.2" fill="none" stroke="#151515" stroke-width="1"/>
<ellipse cx="612.2" cy="694.2" rx="17.5" ry="35" transform="rotate(14 612.2 694.2)" fill="white" stroke="#151515" stroke-width="1"/>
<ellipse cx="612.7" cy="694.3" rx="12" ry="24" transform="rotate(14 612.7 694.3)" fill="white" stroke="#151515" stroke-width="1"/>
<path d="M618.9 673 C619.1 673.3 619.6 674 619.9 674.5 C620.2 675 620.5 675.6 620.8 676.2 C621 676.8 621.3 677.5 621.5 678.2 C621.7 678.9 621.8 679.6 622 680.4 C622.1 681.1 622.2 681.9 622.3 682.7 C622.4 683.6 622.4 684.4 622.4 685.3 C622.4 686.2 622.4 687.1 622.4 688 C622.3 688.9 622.2 689.8 622.1 690.7 C622 691.7 621.9 692.6 621.7 693.5 C621.5 694.5 621.3 695.4 621.1 696.3 C620.9 697.3 620.6 698.2 620.3 699.1 C620 700 619.7 700.9 619.4 701.8 C619.1 702.6 618.7 703.5 618.3 704.3 C617.9 705.1 617.5 706 617.1 706.7 C616.7 707.5 616.2 708.2 615.8 708.9 C615.3 709.6 614.8 710.3 614.4 710.9 C613.9 711.5 613.4 712.1 612.9 712.6 C612.4 713.1 611.9 713.6 611.4 714 C610.8 714.4 610.3 714.8 609.8 715.1 C609.3 715.4 608.5 715.8 608.3 715.9" fill="none" stroke="#151515" stroke-width="1"/>
<path d="M616.5 673.7 C616.6 674 617 674.7 617.3 675.2 C617.5 675.8 617.8 676.3 618 676.9 C618.2 677.5 618.3 678.2 618.5 678.8 C618.6 679.5 618.8 680.2 618.9 680.9 C619 681.6 619.1 682.4 619.1 683.2 C619.1 683.9 619.2 684.7 619.2 685.5 C619.2 686.3 619.1 687.1 619.1 688 C619 688.8 618.9 689.6 618.8 690.5 C618.7 691.3 618.6 692.2 618.4 693 C618.3 693.9 618.1 694.7 617.9 695.6 C617.6 696.4 617.4 697.3 617.2 698.1 C616.9 698.9 616.6 699.7 616.3 700.5 C616 701.3 615.7 702.1 615.4 702.9 C615 703.6 614.7 704.4 614.3 705.1 C613.9 705.8 613.5 706.5 613.1 707.1 C612.7 707.8 612.3 708.4 611.9 709 C611.4 709.6 611 710.2 610.6 710.7 C610.1 711.2 609.6 711.7 609.2 712.1 C608.7 712.5 608.3 712.9 607.8 713.3 C607.3 713.6 606.6 714 606.4 714.2" fill="none" stroke="#151515" stroke-width="1"/>
<path d="M614.4 675.7 C614.5 675.9 614.8 676.6 614.9 677.2 C615.1 677.7 615.2 678.2 615.3 678.8 C615.5 679.4 615.6 679.9 615.6 680.5 C615.7 681.1 615.8 681.8 615.8 682.4 C615.9 683 615.9 683.7 615.9 684.3 C615.9 685 615.9 685.7 615.9 686.3 C615.8 687 615.8 687.7 615.7 688.4 C615.6 689.1 615.6 689.8 615.5 690.5 C615.3 691.2 615.2 691.9 615.1 692.6 C614.9 693.3 614.8 694 614.6 694.7 C614.4 695.4 614.3 696.1 614 696.8 C613.8 697.5 613.6 698.2 613.4 698.8 C613.1 699.5 612.9 700.2 612.6 700.8 C612.4 701.5 612.1 702.1 611.8 702.7 C611.5 703.3 611.2 703.9 610.9 704.5 C610.6 705.1 610.2 705.6 609.9 706.2 C609.6 706.7 609.2 707.2 608.9 707.7 C608.5 708.2 608.1 708.7 607.8 709.1 C607.4 709.6 607 710 606.7 710.4 C606.3 710.8 605.7 711.3 605.5 711.4" fill="none" stroke="#151515" stroke-width="0.9"/>
<ellipse cx="618.9" cy="676.9" rx="0.9" ry="1.6" transform="rotate(14 618.9 676.9)" fill="#151515" stroke="#151515" stroke-width="0.5"/>
<ellipse cx="620.4" cy="684.6" rx="0.9" ry="1.6" transform="rotate(14 620.4 684.6)" fill="#151515" stroke="#151515" stroke-width="0.5"/>
<ellipse cx="619.5" cy="694" rx="0.9" ry="1.6" transform="rotate(14 619.5 694)" fill="#151515" stroke="#151515" stroke-width="0.5"/>
<ellipse cx="616.6" cy="703.2" rx="0.9" ry="1.6" transform="rotate(14 616.6 703.2)" fill="#151515" stroke="#151515" stroke-width="0.5"/>
<ellipse cx="612.1" cy="710.6" rx="0.9" ry="1.6" transform="rotate(14 612.1 710.6)" fill="#151515" stroke="#151515" stroke-width="0.5"/>
<ellipse cx="608.5" cy="694.4" rx="2.4" ry="4.4" transform="rotate(14 608.5 694.4)" fill="#151515" stroke="#151515" stroke-width="1"/>
<path d="M609.6 690.1 L631.1 694.7 L628.9 703.3 L607.4 698.7Z" fill="#151515" stroke="#151515" stroke-width="1"/>
<ellipse cx="630" cy="699" rx="2.4" ry="4.4" transform="rotate(14 630 699)" fill="#151515" stroke="#151515" stroke-width="1"/>
<ellipse cx="630.5" cy="699" rx="3.9" ry="7" transform="rotate(14 630.5 699)" fill="white" stroke="#151515" stroke-width="1.1"/>
<path d="M632.2 692.2 L643.9 694.8 L640.5 708.4 L628.8 705.8Z" fill="white" stroke="none" stroke-width="0"/>
<path d="M632.2 692.2 L643.9 694.8" fill="none" stroke="#151515" stroke-width="1.1"/>
<path d="M628.8 705.8 L640.5 708.4" fill="none" stroke="#151515" stroke-width="1.1"/>
<ellipse cx="642.2" cy="701.6" rx="3.9" ry="7" transform="rotate(14 642.2 701.6)" fill="white" stroke="#151515" stroke-width="1.5"/>
<ellipse cx="642.2" cy="701.6" rx="2.8" ry="5" transform="rotate(14 642.2 701.6)" fill="white" stroke="#151515" stroke-width="1.4"/>
<ellipse cx="642.2" cy="701.6" rx="1.4" ry="2.6" transform="rotate(14 642.2 701.6)" fill="white" stroke="#151515" stroke-width="0.9"/>
<path d="M693.8 634.7 C690.6 635.5 686.3 638.1 681 643 C675.7 647.9 667.5 655.9 662 664 C656.5 672.1 650.5 684.9 647.7 691.7 C645 698.5 645.7 700 645.5 705 C645.3 710 645.6 715.8 646.4 722 C647.1 728.2 648.6 736 650 742 C651.4 748 653.7 754 655 758 C656.3 762 656.5 765.4 658 766 C659.5 766.6 662.1 763.2 664 761.5 C665.9 759.8 666.7 759.3 669.4 755.7 C672.1 752.1 674.9 749.3 680 740 C685.1 730.7 695.7 713.3 700 700 C704.3 686.7 705.3 668.3 706 660 C706.7 651.7 705 653.7 704 650 C703 646.3 701.7 640.5 700 638 C698.3 635.5 697 633.9 693.8 634.7Z" fill="white" stroke="#151515" stroke-width="1.1"/>
<path d="M690 639 C688.2 640.4 683.3 643 679 647.5 C674.7 652 668.4 658.6 664 666 C659.6 673.4 654.8 685.3 652.5 692 C650.2 698.7 650.8 701 650.5 706 C650.2 711 650.3 716.2 651 722 C651.7 727.8 653.2 735.2 654.5 741 C655.8 746.8 657.9 753.3 659 757 C660.1 760.7 660.7 762 661 763" fill="none" stroke="#151515" stroke-width="0.9"/>
<path d="M647.7 691.7 L652.5 692.5" fill="none" stroke="#151515" stroke-width="1"/>
<path d="M692.5 654 C691.1 654.8 687.1 656 684 659 C680.9 662 677 667.2 674 672 C671 676.8 668.2 682.7 666 688 C663.8 693.3 662.1 698.3 661 704 C659.9 709.7 659.2 717.1 659.2 722.4 C659.2 727.7 660 731.9 661 736 C662 740.1 663.6 744.2 665 747 C666.4 749.8 668.7 752 669.4 753 L714 762 L712 750 L710.5 735 L711 720 L714 708 L722 692 L733 676 L742.4 669.3Z" fill="white" stroke="none" stroke-width="0"/>
<path d="M692.5 654 C691.1 654.8 687.1 656 684 659 C680.9 662 677 667.2 674 672 C671 676.8 668.2 682.7 666 688 C663.8 693.3 662.1 698.3 661 704 C659.9 709.7 659.2 717.1 659.2 722.4 C659.2 727.7 660 731.9 661 736 C662 740.1 663.6 744.2 665 747 C666.4 749.8 668.7 752 669.4 753" fill="none" stroke="#151515" stroke-width="1"/>
<path d="M692.5 654 L742.4 669.3" fill="none" stroke="#151515" stroke-width="1"/>
<path d="M669.4 753 L714 762" fill="none" stroke="#151515" stroke-width="1"/>
<path d="M689.7 655.7 L739.9 671.1" fill="none" stroke="#151515" stroke-width="0.8"/>
<path d="M686.8 657.3 L737.4 672.8" fill="none" stroke="#151515" stroke-width="0.8"/>
<path d="M684 659 L735 674.6" fill="none" stroke="#151515" stroke-width="0.8"/>
<path d="M682 661.7 L732.6 676.5" fill="none" stroke="#151515" stroke-width="0.8"/>
<path d="M679.9 664.3 L730.9 679" fill="none" stroke="#151515" stroke-width="0.8"/>
<path d="M677.9 666.9 L729.2 681.5" fill="none" stroke="#151515" stroke-width="0.8"/>
<path d="M675.9 669.5 L727.5 684" fill="none" stroke="#151515" stroke-width="0.8"/>
<path d="M673.9 672.1 L725.7 686.5" fill="none" stroke="#151515" stroke-width="0.8"/>
<path d="M672.5 675.1 L724 689.1" fill="none" stroke="#151515" stroke-width="0.8"/>
<path d="M671 678 L722.3 691.6" fill="none" stroke="#151515" stroke-width="0.8"/>
<path d="M669.5 681 L720.9 694.2" fill="none" stroke="#151515" stroke-width="0.8"/>
<path d="M668 684 L719.5 697" fill="none" stroke="#151515" stroke-width="0.8"/>
<path d="M666.5 686.9 L718.2 699.7" fill="none" stroke="#151515" stroke-width="0.8"/>
<path d="M665.4 690 L716.8 702.4" fill="none" stroke="#151515" stroke-width="0.8"/>
<path d="M664.4 693.1 L715.4 705.1" fill="none" stroke="#151515" stroke-width="0.8"/>
<path d="M663.4 696.3 L714.1 707.9" fill="none" stroke="#151515" stroke-width="0.8"/>
<path d="M662.4 699.4 L713.3 710.8" fill="none" stroke="#151515" stroke-width="0.8"/>
<path d="M661.4 702.6 L712.6 713.8" fill="none" stroke="#151515" stroke-width="0.8"/>
<path d="M660.8 705.8 L711.8 716.7" fill="none" stroke="#151515" stroke-width="0.8"/>
<path d="M660.5 709.1 L711.1 719.7" fill="none" stroke="#151515" stroke-width="0.8"/>
<path d="M660.2 712.4 L710.9 722.7" fill="none" stroke="#151515" stroke-width="0.8"/>
<path d="M659.9 715.7 L710.8 725.7" fill="none" stroke="#151515" stroke-width="0.8"/>
<path d="M659.5 719 L710.7 728.8" fill="none" stroke="#151515" stroke-width="0.8"/>
<path d="M659.2 722.2 L710.6 731.8" fill="none" stroke="#151515" stroke-width="0.8"/>
<path d="M659.6 725.5 L710.5 734.9" fill="none" stroke="#151515" stroke-width="0.8"/>
<path d="M660 728.8 L710.8 737.9" fill="none" stroke="#151515" stroke-width="0.8"/>
<path d="M660.5 732.1 L711.1 740.9" fill="none" stroke="#151515" stroke-width="0.8"/>
<path d="M660.9 735.3 L711.4 743.9" fill="none" stroke="#151515" stroke-width="0.8"/>
<path d="M661.9 738.5 L711.7 747" fill="none" stroke="#151515" stroke-width="0.8"/>
<path d="M663 741.6 L712 750" fill="none" stroke="#151515" stroke-width="0.8"/>
<path d="M664.2 744.7 L712.5 753" fill="none" stroke="#151515" stroke-width="0.8"/>
<path d="M665.5 747.7 L713 756" fill="none" stroke="#151515" stroke-width="0.8"/>
<path d="M667.4 750.3 L713.5 759" fill="none" stroke="#151515" stroke-width="0.8"/>
<path d="M742.4 669.3 C745.2 668 747.6 667.5 750 668 C752.4 668.5 754.9 669.8 757 672 C759.1 674.2 761 677.3 762.5 681 C764 684.7 765.2 688.8 766 694 C766.8 699.2 767.1 705.8 767 712 C766.9 718.2 766.5 725 765.5 731 C764.5 737 762.9 743 761 748 C759.1 753 756.5 757.8 754 761 C751.5 764.2 748.8 765.8 746 767 C743.2 768.2 740 768.2 737 768 C734 767.8 730.8 766.6 728 766 C725.2 765.4 722.3 765.2 720 764.5 C717.7 763.8 715.3 764.4 714 762 C712.7 759.6 712.6 754.5 712 750 C711.4 745.5 710.7 740 710.5 735 C710.3 730 710.4 724.5 711 720 C711.6 715.5 712.2 712.7 714 708 C715.8 703.3 718.8 697.3 722 692 C725.2 686.7 729.6 679.8 733 676 C736.4 672.2 739.6 670.6 742.4 669.3Z" fill="white" stroke="#151515" stroke-width="1.1"/>
<path d="M743 673 C744.2 672.8 747.9 671.5 750 672 C752.1 672.5 753.8 673.8 755.5 676 C757.2 678.2 758.8 681.5 760 685 C761.2 688.5 762.4 692.3 763 697 C763.6 701.7 764 707.5 763.8 713 C763.6 718.5 763 724.5 762 730 C761 735.5 759.3 741.5 757.5 746 C755.7 750.5 753.2 754.2 751 757 C748.8 759.8 746.3 761.8 744 763 C741.7 764.2 738.2 763.8 737 764" fill="none" stroke="#151515" stroke-width="0.9"/>
<path d="M746 679 C748 679 750.2 680.8 752 683 C753.8 685.2 755.7 688.3 757 692 C758.3 695.7 759.5 700 760 705 C760.5 710 760.6 716.5 760 722 C759.4 727.5 758.2 733.2 756.5 738 C754.8 742.8 752.2 747.7 750 751 C747.8 754.3 745.5 756.7 743 758 C740.5 759.3 737.7 759.3 735 759 C732.3 758.7 729.2 757.8 727 756 C724.8 754.2 723.2 751.5 722 748 C720.8 744.5 720.2 739.7 720 735 C719.8 730.3 720.2 725 721 720 C721.8 715 723.2 709.7 725 705 C726.8 700.3 729.5 695.7 732 692 C734.5 688.3 737.7 685.2 740 683 C742.3 680.8 744 679 746 679Z" fill="none" stroke="#151515" stroke-width="0.9"/>
<path d="M741 672 L744 683 L750 684.5 L753 676" fill="none" stroke="#151515" stroke-width="0.9"/>
<path d="M753 676 L755.5 684 L759 676.5" fill="none" stroke="#151515" stroke-width="0.9"/>
<path d="M711.5 715 C712.2 714.6 714.4 712.7 716 712.5 C717.6 712.3 720 712.4 721 714 C722 715.6 722.2 719.7 722 722 C721.8 724.3 721.3 726.8 720 728 C718.7 729.2 715 728.8 714 729" fill="none" stroke="#151515" stroke-width="0.9"/>
<path d="M714 729 L716 758 L722 761" fill="none" stroke="#151515" stroke-width="0.9"/>
<path d="M716 752 L726 754" fill="none" stroke="#151515" stroke-width="0.9"/>
<ellipse cx="736" cy="711.5" rx="8.2" ry="15" transform="rotate(14 736 711.5)" fill="white" stroke="#151515" stroke-width="1.1"/>
<ellipse cx="736.5" cy="711.6" rx="6.9" ry="12.5" transform="rotate(14 736.5 711.6)" fill="white" stroke="#151515" stroke-width="1.5"/>
<ellipse cx="736.8" cy="711.7" rx="5.8" ry="10.5" transform="rotate(14 736.8 711.7)" fill="white" stroke="#151515" stroke-width="1"/>
<path d="M738.8 702.1 C738.9 702.2 739.2 702.5 739.3 702.8 C739.5 703 739.6 703.3 739.7 703.5 C739.9 703.8 740 704.1 740.1 704.4 C740.2 704.7 740.3 705.1 740.4 705.4 C740.4 705.8 740.5 706.1 740.5 706.5 C740.6 706.9 740.6 707.3 740.6 707.7 C740.7 708 740.7 708.4 740.6 708.9 C740.6 709.3 740.6 709.7 740.6 710.1 C740.5 710.5 740.4 710.9 740.4 711.3 C740.3 711.8 740.2 712.2 740.1 712.6 C740 713 739.9 713.4 739.8 713.8 C739.6 714.2 739.5 714.6 739.3 715 C739.2 715.4 739 715.8 738.8 716.2 C738.6 716.5 738.5 716.9 738.3 717.2 C738.1 717.6 737.8 717.9 737.6 718.2 C737.4 718.5 737.2 718.8 737 719.1 C736.7 719.3 736.5 719.6 736.3 719.8 C736 720 735.8 720.2 735.5 720.4 C735.3 720.6 735 720.8 734.8 720.9 C734.5 721 734.2 721.2 734 721.3" fill="none" stroke="#151515" stroke-width="0.9"/>
<ellipse cx="753" cy="705.8" rx="8.2" ry="15" transform="rotate(14 753 705.8)" fill="white" stroke="#151515" stroke-width="1.1"/>
<ellipse cx="753.5" cy="705.9" rx="6.9" ry="12.5" transform="rotate(14 753.5 705.9)" fill="white" stroke="#151515" stroke-width="1.5"/>
<ellipse cx="753.8" cy="706" rx="5.8" ry="10.5" transform="rotate(14 753.8 706)" fill="white" stroke="#151515" stroke-width="1"/>
<path d="M755.8 696.4 C755.9 696.5 756.2 696.8 756.3 697.1 C756.5 697.3 756.6 697.6 756.7 697.8 C756.9 698.1 757 698.4 757.1 698.7 C757.2 699 757.3 699.4 757.4 699.7 C757.4 700.1 757.5 700.4 757.5 700.8 C757.6 701.2 757.6 701.6 757.6 702 C757.7 702.3 757.7 702.7 757.6 703.2 C757.6 703.6 757.6 704 757.6 704.4 C757.5 704.8 757.4 705.2 757.4 705.6 C757.3 706.1 757.2 706.5 757.1 706.9 C757 707.3 756.9 707.7 756.8 708.1 C756.6 708.5 756.5 708.9 756.3 709.3 C756.2 709.7 756 710.1 755.8 710.5 C755.6 710.8 755.5 711.2 755.3 711.5 C755.1 711.9 754.8 712.2 754.6 712.5 C754.4 712.8 754.2 713.1 754 713.4 C753.7 713.6 753.5 713.9 753.3 714.1 C753 714.3 752.8 714.5 752.5 714.7 C752.3 714.9 752 715.1 751.8 715.2 C751.5 715.3 751.2 715.5 751 715.6" fill="none" stroke="#151515" stroke-width="0.9"/>
<ellipse cx="739.2" cy="741.6" rx="8.2" ry="15" transform="rotate(14 739.2 741.6)" fill="white" stroke="#151515" stroke-width="1.1"/>
<ellipse cx="739.7" cy="741.7" rx="6.9" ry="12.5" transform="rotate(14 739.7 741.7)" fill="white" stroke="#151515" stroke-width="1.5"/>
<ellipse cx="740" cy="741.8" rx="5.8" ry="10.5" transform="rotate(14 740 741.8)" fill="white" stroke="#151515" stroke-width="1"/>
<path d="M742 732.2 C742.1 732.3 742.4 732.6 742.5 732.9 C742.7 733.1 742.8 733.4 742.9 733.6 C743.1 733.9 743.2 734.2 743.3 734.5 C743.4 734.8 743.5 735.2 743.6 735.5 C743.6 735.9 743.7 736.2 743.7 736.6 C743.8 737 743.8 737.4 743.8 737.8 C743.9 738.1 743.9 738.5 743.8 739 C743.8 739.4 743.8 739.8 743.8 740.2 C743.7 740.6 743.6 741 743.6 741.4 C743.5 741.9 743.4 742.3 743.3 742.7 C743.2 743.1 743.1 743.5 743 743.9 C742.8 744.3 742.7 744.7 742.5 745.1 C742.4 745.5 742.2 745.9 742 746.3 C741.8 746.6 741.7 747 741.5 747.3 C741.3 747.7 741 748 740.8 748.3 C740.6 748.6 740.4 748.9 740.2 749.2 C739.9 749.4 739.7 749.7 739.5 749.9 C739.2 750.1 739 750.3 738.7 750.5 C738.5 750.7 738.2 750.9 738 751 C737.7 751.1 737.4 751.3 737.2 751.4" fill="none" stroke="#151515" stroke-width="0.9"/>
<ellipse cx="749.5" cy="729.3" rx="4.1" ry="7.5" transform="rotate(14 749.5 729.3)" fill="white" stroke="#151515" stroke-width="0.9"/>
<path d="M751.3 722 L756.3 723.3 L752.7 737.9 L747.7 736.6Z" fill="white" stroke="none" stroke-width="0"/>
<path d="M751.3 722 L756.3 723.3" fill="none" stroke="#151515" stroke-width="1"/>
<path d="M747.7 736.6 L752.7 737.9" fill="none" stroke="#151515" stroke-width="1"/>
<ellipse cx="754.5" cy="730.6" rx="4.1" ry="7.5" transform="rotate(14 754.5 730.6)" fill="white" stroke="#151515" stroke-width="0.9"/>
<path d="M841.3 647.6 C845.2 644.5 846.5 644.9 849 645.1 C851.5 645.3 857.9 647.4 860.2 649 C862.5 650.6 865.4 655 866.5 657.4 C867.6 659.8 867.9 663.5 868.3 667.2 C868.7 670.9 869.2 680.5 869.3 685 C869.4 689.5 869.7 697.2 869.3 700.8 C868.9 704.4 866.6 709.2 866 712 C865.4 714.8 866.2 718.7 865.1 721.8 C864 724.9 860.3 731.5 858 735 C855.7 738.5 850.2 744.7 848 748 C845.8 751.3 842.5 756.2 841.5 760 C840.5 763.8 841.5 772.7 840.6 776.4 C839.7 780.1 837.2 784.6 835 787.6 C832.8 790.6 827 796.8 823.8 798.8 C820.6 800.8 814.7 802.3 811.2 802.3 C807.7 802.3 800.6 800.4 797.2 798.8 C793.8 797.2 788.4 793.6 786 790.4 C783.6 787.2 780.2 779.9 779 775 C777.8 770.1 776.9 759.2 776.9 754 C776.9 748.8 779.4 739.4 779 735.8 C778.6 732.2 774.9 729.6 774 727 C773.1 724.4 771.7 718.7 772 716 C772.3 713.3 774.5 708.7 776 707 C777.5 705.3 780 706.3 783.2 703.6 C786.4 700.9 795.1 691.7 800 687 C804.9 682.3 814.5 673.3 820 668 C825.5 662.7 837.4 650.7 841.3 647.6Z" fill="white" stroke="#151515" stroke-width="1.1"/>
<path d="M837.8 659.5 L793 702.2" fill="none" stroke="#151515" stroke-width="1"/>
<path d="M816.5 672.5 L818.5 669.5 L825 668.8" fill="none" stroke="#151515" stroke-width="0.9"/>
<path d="M837.8 659.5 L868 667.9" fill="none" stroke="#151515" stroke-width="1"/>
<path d="M837.8 659.5 L800 696.6" fill="none" stroke="#151515" stroke-width="1"/>
<path d="M793 702.2 C793.9 701.5 798 697 800 696.6 C802 696.2 805.8 698.8 808 699.5 C810.2 700.2 814.8 701.7 816.8 702.2 C818.8 702.7 822.2 703.2 823 703.4" fill="none" stroke="#151515" stroke-width="1"/>
<path d="M801.5 696 C802.5 696.3 806.9 697.9 809 698.5 C811.1 699.1 815.9 700.5 817 700.8" fill="none" stroke="#151515" stroke-width="0.8"/>
<path d="M857.5 708 L857.5 722 L865.1 721.8 L865.1 706" fill="white" stroke="#151515" stroke-width="1"/>
<path d="M844.4 670.7 L844.4 700.8 A12.2 6.4 0 0 0 868.8 700.8 L868.8 670.7 Z" fill="white" stroke="#151515" stroke-width="1"/>
<ellipse cx="856.6" cy="670.7" rx="12.2" ry="6.4" fill="white" stroke="#151515" stroke-width="1"/>
<ellipse cx="856.6" cy="670.9" rx="10" ry="5.1" fill="white" stroke="#151515" stroke-width="1"/>
<ellipse cx="856.6" cy="671.5" rx="8.6" ry="4.2" fill="white" stroke="#151515" stroke-width="0.9"/>
<path d="M849 672.3 A7.6 3.6 0 0 0 864.2 672.3" fill="none" stroke="#151515" stroke-width="0.7"/>
<path d="M849.6 673.5 A7 3.3 0 0 0 863.6 673.5" fill="none" stroke="#151515" stroke-width="0.7"/>
<path d="M850.2 674.7 A6.4 3 0 0 0 863 674.7" fill="none" stroke="#151515" stroke-width="0.7"/>
<path d="M843.8 716 L843.8 734 Q846 739 852.8 734 L852.8 716Z" fill="white" stroke="#151515" stroke-width="1"/>
<path d="M830.8 684 L830.8 714.8 A12.2 6.4 0 0 0 855.2 714.8 L855.2 684 Z" fill="white" stroke="#151515" stroke-width="1"/>
<ellipse cx="843" cy="684" rx="12.2" ry="6.4" fill="white" stroke="#151515" stroke-width="1"/>
<ellipse cx="843" cy="684.2" rx="10" ry="5.1" fill="white" stroke="#151515" stroke-width="1"/>
<ellipse cx="843" cy="684.8" rx="8.6" ry="4.2" fill="white" stroke="#151515" stroke-width="0.9"/>
<path d="M835.4 685.6 A7.6 3.6 0 0 0 850.6 685.6" fill="none" stroke="#151515" stroke-width="0.7"/>
<path d="M836 686.8 A7 3.3 0 0 0 850 686.8" fill="none" stroke="#151515" stroke-width="0.7"/>
<path d="M836.6 688 A6.4 3 0 0 0 849.4 688" fill="none" stroke="#151515" stroke-width="0.7"/>
<path d="M805.6 700 L805.6 728.8 Q823.8 737 842.2 726 L842.2 700Z" fill="white" stroke="#151515" stroke-width="1"/>
<path d="M805.6 728.8 L805.6 705" fill="none" stroke="#151515" stroke-width="1"/>
<path d="M816.8 696.8 L816.8 703 A12.2 6.4 0 0 0 841.2 703 L841.2 696.8 Z" fill="white" stroke="#151515" stroke-width="1"/>
<ellipse cx="829" cy="696.8" rx="12.2" ry="6.4" fill="white" stroke="#151515" stroke-width="1"/>
<ellipse cx="829" cy="697" rx="10" ry="5.1" fill="white" stroke="#151515" stroke-width="1"/>
<ellipse cx="829" cy="697.6" rx="8.6" ry="4.2" fill="white" stroke="#151515" stroke-width="0.9"/>
<path d="M821.4 698.4 A7.6 3.6 0 0 0 836.6 698.4" fill="none" stroke="#151515" stroke-width="0.7"/>
<path d="M822 699.6 A7 3.3 0 0 0 836 699.6" fill="none" stroke="#151515" stroke-width="0.7"/>
<path d="M822.6 700.8 A6.4 3 0 0 0 835.4 700.8" fill="none" stroke="#151515" stroke-width="0.7"/>
<path d="M816.8 697 L816.8 702 " fill="none" stroke="#151515" stroke-width="0.8"/>
<path d="M805.6 728.8 Q823.8 737 842.2 726 L842.2 697" fill="none" stroke="#151515" stroke-width="1"/>
<path d="M839.2 729.5 L839.2 740" fill="none" stroke="#151515" stroke-width="1"/>
<path d="M805 729 L825.9 733.4 L826.6 751.9 L805.6 747Z" fill="white" stroke="#151515" stroke-width="1"/>
<path d="M826.6 751.9 Q833 751 838.2 746.5 L838.2 730" fill="none" stroke="#151515" stroke-width="1"/>
<ellipse cx="870.7" cy="733.4" rx="7.2" ry="11.6" transform="rotate(14 870.7 733.4)" fill="white" stroke="#151515" stroke-width="1"/>
<ellipse cx="872.3" cy="733.8" rx="7.2" ry="11.6" transform="rotate(14 872.3 733.8)" fill="white" stroke="#151515" stroke-width="1"/>
<ellipse cx="874.9" cy="734.4" rx="6.9" ry="11.2" transform="rotate(14 874.9 734.4)" fill="white" stroke="#151515" stroke-width="1.4"/>
<ellipse cx="875.5" cy="734.5" rx="5.1" ry="8.2" transform="rotate(14 875.5 734.5)" fill="white" stroke="#151515" stroke-width="1"/>
<ellipse cx="875.7" cy="734.6" rx="2.9" ry="4.6" transform="rotate(14 875.7 734.6)" fill="white" stroke="#151515" stroke-width="0.8"/>
<path d="M875.2 731.8 L876.2 737.4" fill="none" stroke="#151515" stroke-width="0.7"/>
<ellipse cx="857.4" cy="746" rx="7.2" ry="11.6" transform="rotate(14 857.4 746)" fill="white" stroke="#151515" stroke-width="1"/>
<ellipse cx="859" cy="746.4" rx="7.2" ry="11.6" transform="rotate(14 859 746.4)" fill="white" stroke="#151515" stroke-width="1"/>
<ellipse cx="861.6" cy="747" rx="6.9" ry="11.2" transform="rotate(14 861.6 747)" fill="white" stroke="#151515" stroke-width="1.4"/>
<ellipse cx="862.2" cy="747.1" rx="5.1" ry="8.2" transform="rotate(14 862.2 747.1)" fill="white" stroke="#151515" stroke-width="1"/>
<ellipse cx="862.4" cy="747.2" rx="2.9" ry="4.6" transform="rotate(14 862.4 747.2)" fill="white" stroke="#151515" stroke-width="0.8"/>
<path d="M861.9 744.4 L862.9 750" fill="none" stroke="#151515" stroke-width="0.7"/>
<ellipse cx="843.4" cy="760" rx="7.2" ry="11.6" transform="rotate(14 843.4 760)" fill="white" stroke="#151515" stroke-width="1"/>
<ellipse cx="845" cy="760.4" rx="7.2" ry="11.6" transform="rotate(14 845 760.4)" fill="white" stroke="#151515" stroke-width="1"/>
<ellipse cx="847.6" cy="761" rx="6.9" ry="11.2" transform="rotate(14 847.6 761)" fill="white" stroke="#151515" stroke-width="1.4"/>
<ellipse cx="848.2" cy="761.1" rx="5.1" ry="8.2" transform="rotate(14 848.2 761.1)" fill="white" stroke="#151515" stroke-width="1"/>
<ellipse cx="848.4" cy="761.2" rx="2.9" ry="4.6" transform="rotate(14 848.4 761.2)" fill="white" stroke="#151515" stroke-width="0.8"/>
<path d="M847.9 758.4 L848.9 764" fill="none" stroke="#151515" stroke-width="0.7"/>
<ellipse cx="792.3" cy="719.2" rx="17" ry="15.2" transform="rotate(20 792.3 719.2)" fill="white" stroke="#151515" stroke-width="1"/>
<path d="M783 705.5 L793 704 L803 734 L790 735.5Z" fill="white" stroke="none" stroke-width="0"/>
<ellipse cx="788.8" cy="720.4" rx="17.6" ry="15.6" transform="rotate(20 788.8 720.4)" fill="white" stroke="#151515" stroke-width="1.1"/>
<ellipse cx="789.1" cy="720.6" rx="14.2" ry="12.4" transform="rotate(20 789.1 720.6)" fill="white" stroke="#151515" stroke-width="1"/>
<ellipse cx="789.4" cy="720.8" rx="12.6" ry="10.8" transform="rotate(20 789.4 720.8)" fill="white" stroke="#151515" stroke-width="1"/>
<path d="M780.5 716.5 C780.6 716.3 780.8 715.8 781 715.5 C781.2 715.2 781.4 714.8 781.7 714.5 C781.9 714.2 782.2 713.9 782.4 713.6 C782.7 713.3 783 713 783.3 712.8 C783.6 712.5 784 712.3 784.3 712.1 C784.6 711.8 785 711.6 785.4 711.4 C785.7 711.2 786.1 711.1 786.5 710.9 C786.9 710.7 787.3 710.6 787.7 710.5 C788.2 710.4 788.6 710.3 789 710.2 C789.4 710.1 789.9 710.1 790.3 710 C790.7 710 791.2 710 791.6 710 C792 710 792.5 710.1 792.9 710.1 C793.3 710.2 793.8 710.2 794.2 710.3 C794.6 710.4 795 710.5 795.4 710.7 C795.8 710.8 796.2 711 796.6 711.1 C797 711.3 797.4 711.5 797.7 711.7 C798.1 711.9 798.4 712.1 798.8 712.4 C799.1 712.6 799.4 712.9 799.7 713.2 C800 713.4 800.3 713.7 800.5 714 C800.8 714.3 801.1 714.8 801.3 715" fill="none" stroke="#151515" stroke-width="0.8"/>
<path d="M797 699.5 L805.6 705" fill="none" stroke="#151515" stroke-width="0.9"/>
<path d="M787.4 738.6 L795.1 735.8 L793 747 L787.4 745.6Z" fill="white" stroke="#151515" stroke-width="0.9"/>
<path d="M789.6 739.6 L788.6 744.2" fill="none" stroke="#151515" stroke-width="0.8"/>
<path d="M793 747 L799 749 L800 737" fill="none" stroke="#151515" stroke-width="0.9"/>
<path d="M786 754 C786.8 753.5 789.1 751.1 791 750.5 C792.9 749.9 796.4 749.3 798.6 749.8 C800.9 750.2 804.1 751.8 806 753.5 C807.9 755.2 810.2 758.6 811.2 761 C812.2 763.4 812.8 766.9 812.6 769.4 C812.4 771.9 811.1 776 810 778 C808.9 780 805.8 782.2 805 783" fill="none" stroke="#151515" stroke-width="1"/>
<ellipse cx="792.3" cy="769.4" rx="12.2" ry="12.8" transform="rotate(-25 792.3 769.4)" fill="white" stroke="#151515" stroke-width="1.1"/>
<ellipse cx="792.5" cy="769.6" rx="9.6" ry="10.2" transform="rotate(-25 792.5 769.6)" fill="white" stroke="#151515" stroke-width="1"/>
<path d="M787.4 767 C787.5 766.9 787.6 766.4 787.7 766.1 C787.8 765.8 787.9 765.5 788.1 765.2 C788.2 764.9 788.4 764.6 788.6 764.4 C788.8 764.1 789 763.9 789.3 763.6 C789.5 763.4 789.7 763.2 790 763 C790.3 762.8 790.6 762.6 790.9 762.4 C791.2 762.2 791.5 762.1 791.8 762 C792.1 761.8 792.5 761.7 792.8 761.6 C793.1 761.5 793.5 761.5 793.8 761.4 C794.2 761.4 794.5 761.4 794.9 761.4 C795.3 761.4 795.6 761.4 796 761.4 C796.3 761.5 796.7 761.5 797 761.6 C797.3 761.7 797.7 761.8 798 762 C798.3 762.1 798.6 762.2 798.9 762.4 C799.2 762.6 799.5 762.8 799.8 763 C800.1 763.2 800.3 763.4 800.5 763.6 C800.8 763.9 801 764.1 801.2 764.4 C801.4 764.6 801.6 764.9 801.7 765.2 C801.9 765.5 802 765.8 802.1 766.1 C802.2 766.4 802.3 766.9 802.4 767" fill="none" stroke="#151515" stroke-width="0.9"/>
<path d="M790.2 766.7 C790.2 766.6 790.3 766.3 790.4 766 C790.5 765.8 790.6 765.6 790.7 765.4 C790.8 765.2 790.9 765 791.1 764.8 C791.2 764.6 791.4 764.4 791.5 764.2 C791.7 764.1 791.9 763.9 792.1 763.7 C792.3 763.6 792.5 763.4 792.7 763.3 C793 763.2 793.2 763.1 793.4 763 C793.7 762.9 793.9 762.8 794.2 762.8 C794.4 762.7 794.7 762.6 794.9 762.6 C795.2 762.6 795.4 762.6 795.7 762.6 C796 762.6 796.2 762.6 796.5 762.6 C796.7 762.6 797 762.7 797.2 762.8 C797.5 762.8 797.7 762.9 798 763 C798.2 763.1 798.4 763.2 798.7 763.3 C798.9 763.4 799.1 763.6 799.3 763.7 C799.5 763.9 799.7 764.1 799.9 764.2 C800 764.4 800.2 764.6 800.3 764.8 C800.5 765 800.6 765.2 800.7 765.4 C800.8 765.6 800.9 765.8 801 766 C801.1 766.3 801.2 766.6 801.2 766.7" fill="none" stroke="#151515" stroke-width="0.8"/>
<path d="M812.6 769.4 L815.4 769.4 L832.2 773.6 L832.2 783.4" fill="none" stroke="#151515" stroke-width="1"/>
<path d="M815.4 769.4 L816.8 780.6 L822 782" fill="none" stroke="#151515" stroke-width="1"/>
<path d="M805 783 L806.5 789 L811 791.5 L817 789.5 L816.8 780.6" fill="none" stroke="#151515" stroke-width="1"/>
<path d="M812 761 L816 765 L826 768 L836 766.5" fill="none" stroke="#151515" stroke-width="0.9"/>
<path d="M807.6 800.5 C807.7 799.2 807.8 794.3 808.4 792.5 C809 790.7 810.3 789.6 811.2 789.6 C812.1 789.6 813.5 790.4 814 792.5 C814.5 794.6 814.2 800.4 814.2 802" fill="none" stroke="#151515" stroke-width="0.9"/>
<path d="M808.4 796.5 L814 796.8" fill="none" stroke="#151515" stroke-width="0.8"/>
<path d="M797 780.5 C797.5 782.1 798.4 786.8 800 790 C801.6 793.2 805.4 797.9 806.5 799.5" fill="none" stroke="#151515" stroke-width="0.9"/>
<path d="M832.2 783.4 L836 781" fill="none" stroke="#151515" stroke-width="0.9"/>
<path d="M836.5 769 L836.5 785" fill="none" stroke="#151515" stroke-width="0.9"/>
<ellipse cx="504" cy="528.4" rx="9.5" ry="17.6" transform="rotate(14 504 528.4)" fill="white" stroke="#151515" stroke-width="2"/>
<ellipse cx="504" cy="528.4" rx="8.5" ry="15" transform="rotate(14 504 528.4)" fill="white" stroke="#151515" stroke-width="1"/>
<ellipse cx="504.8" cy="528.6" rx="7.1" ry="12.5" transform="rotate(14 504.8 528.6)" fill="white" stroke="#151515" stroke-width="1"/>
<path d="M510 517.8 L507.9 525.4" fill="none" stroke="#151515" stroke-width="0.9"/>
<path d="M511.7 530.3 L507 531.5" fill="none" stroke="#151515" stroke-width="0.9"/>
<path d="M504.3 540.6 L503.2 533.9" fill="none" stroke="#151515" stroke-width="0.9"/>
<path d="M497.6 535.1 L501.5 529.2" fill="none" stroke="#151515" stroke-width="0.9"/>
<path d="M500.3 521 L504.1 523.8" fill="none" stroke="#151515" stroke-width="0.9"/>
<ellipse cx="505" cy="528.6" rx="2.3" ry="4" transform="rotate(14 505 528.6)" fill="white" stroke="#151515" stroke-width="0.9"/>
<ellipse cx="521.6" cy="533.2" rx="4.6" ry="8.3" transform="rotate(14 521.6 533.2)" fill="white" stroke="#151515" stroke-width="1"/>
<path d="M523.6 525.1 L590.6 540.3 L586.6 556.5 L519.6 541.3Z" fill="white" stroke="none" stroke-width="0"/>
<path d="M523.6 525.1 L590.6 540.3" fill="none" stroke="#151515" stroke-width="1"/>
<path d="M519.6 541.3 L586.6 556.5" fill="none" stroke="#151515" stroke-width="1"/>
<ellipse cx="588.6" cy="548.4" rx="4.6" ry="8.3" transform="rotate(14 588.6 548.4)" fill="white" stroke="#151515" stroke-width="1"/>
<path d="M519.6 541.3 C519.5 541.2 519.1 541.1 518.9 541 C518.7 540.9 518.5 540.7 518.3 540.5 C518.1 540.3 518 540.1 517.8 539.9 C517.6 539.6 517.5 539.4 517.4 539.1 C517.2 538.8 517.1 538.5 517 538.1 C517 537.8 516.9 537.4 516.8 537 C516.8 536.7 516.8 536.3 516.7 535.9 C516.7 535.5 516.7 535.1 516.8 534.6 C516.8 534.2 516.8 533.8 516.9 533.4 C517 532.9 517.1 532.5 517.2 532.1 C517.3 531.7 517.4 531.3 517.5 530.8 C517.7 530.4 517.8 530 518 529.7 C518.2 529.3 518.4 528.9 518.6 528.6 C518.8 528.2 519 527.9 519.2 527.6 C519.4 527.3 519.7 527 519.9 526.7 C520.1 526.5 520.4 526.2 520.6 526 C520.9 525.8 521.1 525.7 521.4 525.5 C521.6 525.4 521.9 525.3 522.1 525.2 C522.4 525.1 522.6 525.1 522.9 525.1 C523.1 525.1 523.5 525.1 523.6 525.1" fill="none" stroke="#151515" stroke-width="2.2"/>
<path d="M522.1 541.9 C522 541.8 521.6 541.7 521.4 541.6 C521.2 541.5 521 541.3 520.8 541.1 C520.6 540.9 520.5 540.7 520.3 540.5 C520.1 540.2 520 540 519.9 539.7 C519.7 539.4 519.6 539.1 519.5 538.7 C519.5 538.4 519.4 538 519.3 537.6 C519.3 537.3 519.3 536.9 519.2 536.5 C519.2 536.1 519.2 535.7 519.3 535.2 C519.3 534.8 519.3 534.4 519.4 534 C519.5 533.5 519.6 533.1 519.7 532.7 C519.8 532.3 519.9 531.9 520 531.4 C520.2 531 520.3 530.6 520.5 530.3 C520.7 529.9 520.9 529.5 521.1 529.2 C521.3 528.8 521.5 528.5 521.7 528.2 C521.9 527.9 522.2 527.6 522.4 527.3 C522.6 527.1 522.9 526.8 523.1 526.6 C523.4 526.4 523.6 526.3 523.9 526.1 C524.1 526 524.4 525.9 524.6 525.8 C524.9 525.7 525.1 525.7 525.4 525.7 C525.6 525.7 526 525.7 526.1 525.7" fill="none" stroke="#151515" stroke-width="0.9"/>
<ellipse cx="588.1" cy="548.3" rx="3.9" ry="7" transform="rotate(14 588.1 548.3)" fill="white" stroke="#151515" stroke-width="0.9"/>
<ellipse cx="606.5" cy="554.3" rx="7" ry="16.6" transform="rotate(14 606.5 554.3)" fill="none" stroke="#151515" stroke-width="2.6"/>
<ellipse cx="606.5" cy="554.3" rx="7" ry="16.6" transform="rotate(14 606.5 554.3)" fill="none" stroke="white" stroke-width="0.9"/>
<ellipse cx="611.7" cy="555.4" rx="7" ry="16.6" transform="rotate(14 611.7 555.4)" fill="none" stroke="#151515" stroke-width="2.6"/>
<ellipse cx="611.7" cy="555.4" rx="7" ry="16.6" transform="rotate(14 611.7 555.4)" fill="none" stroke="white" stroke-width="0.9"/>
<ellipse cx="616.9" cy="556.5" rx="7" ry="16.6" transform="rotate(14 616.9 556.5)" fill="none" stroke="#151515" stroke-width="2.6"/>
<ellipse cx="616.9" cy="556.5" rx="7" ry="16.6" transform="rotate(14 616.9 556.5)" fill="none" stroke="white" stroke-width="0.9"/>
<ellipse cx="622.1" cy="557.6" rx="7" ry="16.6" transform="rotate(14 622.1 557.6)" fill="none" stroke="#151515" stroke-width="2.6"/>
<ellipse cx="622.1" cy="557.6" rx="7" ry="16.6" transform="rotate(14 622.1 557.6)" fill="none" stroke="white" stroke-width="0.9"/>
<ellipse cx="627.3" cy="558.7" rx="7" ry="16.6" transform="rotate(14 627.3 558.7)" fill="none" stroke="#151515" stroke-width="2.6"/>
<ellipse cx="627.3" cy="558.7" rx="7" ry="16.6" transform="rotate(14 627.3 558.7)" fill="none" stroke="white" stroke-width="0.9"/>
<ellipse cx="632.5" cy="559.8" rx="7" ry="16.6" transform="rotate(14 632.5 559.8)" fill="none" stroke="#151515" stroke-width="2.6"/>
<ellipse cx="632.5" cy="559.8" rx="7" ry="16.6" transform="rotate(14 632.5 559.8)" fill="none" stroke="white" stroke-width="0.9"/>
<ellipse cx="637.7" cy="560.9" rx="7" ry="16.6" transform="rotate(14 637.7 560.9)" fill="none" stroke="#151515" stroke-width="2.6"/>
<ellipse cx="637.7" cy="560.9" rx="7" ry="16.6" transform="rotate(14 637.7 560.9)" fill="none" stroke="white" stroke-width="0.9"/>
<ellipse cx="642.9" cy="562" rx="7" ry="16.6" transform="rotate(14 642.9 562)" fill="none" stroke="#151515" stroke-width="2.6"/>
<ellipse cx="642.9" cy="562" rx="7" ry="16.6" transform="rotate(14 642.9 562)" fill="none" stroke="white" stroke-width="0.9"/>
<ellipse cx="648.1" cy="563.1" rx="7" ry="16.6" transform="rotate(14 648.1 563.1)" fill="none" stroke="#151515" stroke-width="2.6"/>
<ellipse cx="648.1" cy="563.1" rx="7" ry="16.6" transform="rotate(14 648.1 563.1)" fill="none" stroke="white" stroke-width="0.9"/>
<ellipse cx="653.3" cy="564.2" rx="7" ry="16.6" transform="rotate(14 653.3 564.2)" fill="none" stroke="#151515" stroke-width="2.6"/>
<ellipse cx="653.3" cy="564.2" rx="7" ry="16.6" transform="rotate(14 653.3 564.2)" fill="none" stroke="white" stroke-width="0.9"/>
<ellipse cx="658.5" cy="565.3" rx="7" ry="16.6" transform="rotate(14 658.5 565.3)" fill="none" stroke="#151515" stroke-width="2.6"/>
<ellipse cx="658.5" cy="565.3" rx="7" ry="16.6" transform="rotate(14 658.5 565.3)" fill="none" stroke="white" stroke-width="0.9"/>
<ellipse cx="683" cy="570.9" rx="8.1" ry="14.7" transform="rotate(14 683 570.9)" fill="white" stroke="#151515" stroke-width="1"/>
<path d="M686.6 556.6 L694.1 558.5 L686.9 587.1 L679.4 585.2Z" fill="white" stroke="none" stroke-width="0"/>
<path d="M686.6 556.6 L694.1 558.5" fill="none" stroke="#151515" stroke-width="1"/>
<path d="M679.4 585.2 L686.9 587.1" fill="none" stroke="#151515" stroke-width="1"/>
<ellipse cx="690.5" cy="572.8" rx="8.1" ry="14.7" transform="rotate(14 690.5 572.8)" fill="white" stroke="#151515" stroke-width="1"/>
<ellipse cx="690.8" cy="572.9" rx="6.7" ry="12.2" transform="rotate(14 690.8 572.9)" fill="white" stroke="#151515" stroke-width="2"/>
<ellipse cx="689.5" cy="572.6" rx="5.8" ry="10.5" transform="rotate(14 689.5 572.6)" fill="none" stroke="#151515" stroke-width="1"/>
<path d="M690.5 562.1 C690.6 562.2 690.9 562.4 691.1 562.6 C691.4 562.8 691.6 563.1 691.7 563.4 C691.9 563.6 692.1 563.9 692.2 564.2 C692.4 564.6 692.5 564.9 692.6 565.3 C692.8 565.6 692.8 566 692.9 566.4 C693 566.8 693.1 567.3 693.1 567.7 C693.1 568.1 693.2 568.6 693.2 569 C693.2 569.5 693.1 570 693.1 570.4 C693 570.9 693 571.4 692.9 571.9 C692.8 572.3 692.7 572.8 692.6 573.3 C692.5 573.8 692.3 574.2 692.2 574.7 C692 575.2 691.9 575.6 691.7 576.1 C691.5 576.5 691.3 576.9 691.1 577.3 C690.9 577.7 690.6 578.1 690.4 578.5 C690.2 578.9 689.9 579.2 689.7 579.5 C689.4 579.8 689.1 580.1 688.9 580.4 C688.6 580.7 688.3 580.9 688 581.1 C687.7 581.3 687.5 581.5 687.2 581.7 C686.9 581.8 686.6 581.9 686.3 582 C686 582.1 685.6 582.2 685.5 582.2" fill="none" stroke="#151515" stroke-width="1"/>
<path d="M689.3 562.3 C689.4 562.4 689.7 562.7 689.8 563 C690 563.2 690.1 563.5 690.2 563.7 C690.4 564 690.5 564.3 690.6 564.6 C690.7 564.9 690.8 565.3 690.9 565.6 C690.9 566 691 566.3 691 566.7 C691.1 567.1 691.1 567.5 691.1 567.9 C691.2 568.2 691.2 568.6 691.1 569.1 C691.1 569.5 691.1 569.9 691.1 570.3 C691 570.7 690.9 571.1 690.9 571.5 C690.8 572 690.7 572.4 690.6 572.8 C690.5 573.2 690.4 573.6 690.3 574 C690.1 574.4 690 574.8 689.8 575.2 C689.7 575.6 689.5 576 689.3 576.4 C689.1 576.7 689 577.1 688.8 577.4 C688.6 577.8 688.3 578.1 688.1 578.4 C687.9 578.7 687.7 579 687.5 579.3 C687.2 579.5 687 579.8 686.8 580 C686.5 580.2 686.3 580.4 686 580.6 C685.8 580.8 685.5 581 685.3 581.1 C685 581.2 684.7 581.4 684.5 581.5" fill="none" stroke="#151515" stroke-width="0.9"/>
<ellipse cx="713.4" cy="578.4" rx="6.1" ry="10.2" transform="rotate(14 713.4 578.4)" fill="none" stroke="#151515" stroke-width="2.6"/>
<ellipse cx="713.4" cy="578.4" rx="6.1" ry="10.2" transform="rotate(14 713.4 578.4)" fill="none" stroke="white" stroke-width="0.9"/>
<ellipse cx="729" cy="582.1" rx="9.7" ry="17.6" transform="rotate(14 729 582.1)" fill="white" stroke="#151515" stroke-width="1"/>
<path d="M733.3 565 L739.3 566.5 L730.7 600.7 L724.7 599.2Z" fill="white" stroke="none" stroke-width="0"/>
<path d="M733.3 565 L739.3 566.5" fill="none" stroke="#151515" stroke-width="1"/>
<path d="M724.7 599.2 L730.7 600.7" fill="none" stroke="#151515" stroke-width="1"/>
<ellipse cx="735" cy="583.6" rx="9.7" ry="17.6" transform="rotate(14 735 583.6)" fill="white" stroke="#151515" stroke-width="1"/>
<ellipse cx="735.3" cy="583.6" rx="8" ry="14.5" transform="rotate(14 735.3 583.6)" fill="white" stroke="#151515" stroke-width="2.2"/>
<ellipse cx="736.5" cy="583.9" rx="6.5" ry="11.8" transform="rotate(14 736.5 583.9)" fill="white" stroke="#151515" stroke-width="1.6"/>
<ellipse cx="737.2" cy="584.1" rx="4.7" ry="8.6" transform="rotate(14 737.2 584.1)" fill="white" stroke="#151515" stroke-width="2"/>
<ellipse cx="737.6" cy="584.2" rx="3.1" ry="5.6" transform="rotate(14 737.6 584.2)" fill="white" stroke="#151515" stroke-width="1.2"/>
<path d="M738.1 578.7 C738.1 578.7 738.3 578.9 738.4 579 C738.5 579.1 738.6 579.2 738.7 579.3 C738.8 579.5 738.9 579.6 739 579.8 C739.1 580 739.1 580.2 739.2 580.4 C739.3 580.6 739.3 580.8 739.4 581 C739.4 581.2 739.4 581.4 739.5 581.7 C739.5 581.9 739.5 582.1 739.5 582.4 C739.5 582.6 739.5 582.9 739.4 583.1 C739.4 583.4 739.4 583.6 739.3 583.9 C739.3 584.1 739.3 584.4 739.2 584.6 C739.1 584.9 739.1 585.1 739 585.4 C738.9 585.6 738.8 585.9 738.7 586.1 C738.6 586.3 738.5 586.6 738.4 586.8 C738.3 587 738.1 587.2 738 587.4 C737.9 587.6 737.8 587.8 737.6 588 C737.5 588.1 737.3 588.3 737.2 588.4 C737 588.6 736.9 588.7 736.7 588.8 C736.6 588.9 736.4 589 736.3 589.1 C736.1 589.2 736 589.3 735.8 589.3 C735.7 589.3 735.5 589.4 735.4 589.4" fill="none" stroke="#151515" stroke-width="1"/>
<ellipse cx="756.4" cy="592.2" rx="6.1" ry="10.2" transform="rotate(14 756.4 592.2)" fill="none" stroke="#151515" stroke-width="2.6"/>
<ellipse cx="756.4" cy="592.2" rx="6.1" ry="10.2" transform="rotate(14 756.4 592.2)" fill="none" stroke="white" stroke-width="0.9"/>
<ellipse cx="775.1" cy="593.2" rx="7.7" ry="14" transform="rotate(14 775.1 593.2)" fill="white" stroke="#151515" stroke-width="1"/>
<path d="M778.5 579.6 L784 581 L777.2 608.2 L771.7 606.8Z" fill="white" stroke="none" stroke-width="0"/>
<path d="M778.5 579.6 L784 581" fill="none" stroke="#151515" stroke-width="1"/>
<path d="M771.7 606.8 L777.2 608.2" fill="none" stroke="#151515" stroke-width="1"/>
<ellipse cx="780.6" cy="594.6" rx="7.7" ry="14" transform="rotate(14 780.6 594.6)" fill="white" stroke="#151515" stroke-width="1"/>
<ellipse cx="778.1" cy="594" rx="7.7" ry="14" transform="rotate(14 778.1 594)" fill="none" stroke="#151515" stroke-width="1"/>
<ellipse cx="780.9" cy="594.7" rx="6.2" ry="11.3" transform="rotate(14 780.9 594.7)" fill="white" stroke="#151515" stroke-width="2.2"/>
<ellipse cx="781.4" cy="594.8" rx="4.5" ry="8.2" transform="rotate(14 781.4 594.8)" fill="white" stroke="#151515" stroke-width="1.6"/>
<ellipse cx="781.6" cy="594.8" rx="3" ry="5.5" transform="rotate(14 781.6 594.8)" fill="white" stroke="#151515" stroke-width="1"/>
<path d="M781.9 589.4 C782 589.4 782.2 589.5 782.3 589.7 C782.4 589.8 782.5 589.9 782.6 590 C782.7 590.2 782.8 590.3 782.8 590.5 C782.9 590.7 783 590.8 783.1 591 C783.1 591.2 783.2 591.4 783.2 591.6 C783.2 591.8 783.3 592.1 783.3 592.3 C783.3 592.5 783.3 592.8 783.3 593 C783.3 593.2 783.3 593.5 783.3 593.7 C783.3 594 783.2 594.2 783.2 594.5 C783.1 594.7 783.1 595 783 595.2 C783 595.5 782.9 595.7 782.8 596 C782.7 596.2 782.7 596.4 782.6 596.7 C782.5 596.9 782.4 597.1 782.2 597.3 C782.1 597.6 782 597.8 781.9 597.9 C781.8 598.1 781.6 598.3 781.5 598.5 C781.4 598.7 781.2 598.8 781.1 599 C780.9 599.1 780.8 599.2 780.6 599.3 C780.5 599.4 780.3 599.5 780.2 599.6 C780 599.7 779.9 599.8 779.7 599.8 C779.6 599.8 779.4 599.9 779.3 599.9" fill="none" stroke="#151515" stroke-width="0.9"/>
<path d="M806.1 561 L806.1 569.8 A10.5 4.6 0 0 0 827.1 569.8 L827.1 561Z" fill="white" stroke="#151515" stroke-width="1.1"/>
<path d="M806.1 562.2 A10.5 4.6 0 0 0 827.1 562.2" fill="none" stroke="#151515" stroke-width="1.1"/>
<path d="M806.1 563.7 A10.5 4.6 0 0 0 827.1 563.7" fill="none" stroke="#151515" stroke-width="1.1"/>
<path d="M806.1 565.1 A10.5 4.6 0 0 0 827.1 565.1" fill="none" stroke="#151515" stroke-width="1.1"/>
<path d="M806.1 566.6 A10.5 4.6 0 0 0 827.1 566.6" fill="none" stroke="#151515" stroke-width="1.1"/>
<path d="M806.1 568 A10.5 4.6 0 0 0 827.1 568" fill="none" stroke="#151515" stroke-width="1.1"/>
<path d="M806.1 569.5 A10.5 4.6 0 0 0 827.1 569.5" fill="none" stroke="#151515" stroke-width="1.1"/>
<path d="M803.6 556 L803.6 559.5 A13 6.3 0 0 0 829.6 559.5 L829.6 556Z" fill="white" stroke="#151515" stroke-width="1"/>
<ellipse cx="816.6" cy="556" rx="13" ry="6.3" fill="white" stroke="#151515" stroke-width="1"/>
<ellipse cx="816.6" cy="556" rx="10.3" ry="4.8" fill="white" stroke="#151515" stroke-width="0.9"/>
<path d="M822.1 557.6 L816.6 559.1 L811.1 557.6 L811.1 554.4 L816.6 552.9 L822.1 554.4Z" fill="white" stroke="#151515" stroke-width="0.8"/>
<ellipse cx="816.6" cy="556.4" rx="3.4" ry="1.7" fill="white" stroke="#151515" stroke-width="0.7"/>
<ellipse cx="817" cy="586" rx="12" ry="6" fill="white" stroke="#151515" stroke-width="2.6"/>
<ellipse cx="817" cy="586" rx="12" ry="6" fill="none" stroke="white" stroke-width="0.9"/>
<path d="M809.8 606 L809.8 626 A9.2 4.4 0 0 0 828.2 626 L828.2 606Z" fill="white" stroke="#151515" stroke-width="1.2"/>
<path d="M809.8 622.5 A9.2 4.4 0 0 0 828.2 622.5" fill="none" stroke="#151515" stroke-width="1"/>
<path d="M813.5 609.5 L813.5 624.5" fill="none" stroke="#151515" stroke-width="1"/>
<path d="M817.5 609.5 L817.5 624.5" fill="none" stroke="#151515" stroke-width="1"/>
<path d="M822 609.5 L822 624.5" fill="none" stroke="#151515" stroke-width="1"/>
<path d="M825.5 609.5 L825.5 624.5" fill="none" stroke="#151515" stroke-width="1"/>
<path d="M818 612 A5 2 0 0 0 825 612" fill="none" stroke="#151515" stroke-width="0.9"/>
<path d="M818 615 A5 2 0 0 0 825 615" fill="none" stroke="#151515" stroke-width="0.9"/>
<path d="M818 618 A5 2 0 0 0 825 618" fill="none" stroke="#151515" stroke-width="0.9"/>
<path d="M818 621 A5 2 0 0 0 825 621" fill="none" stroke="#151515" stroke-width="0.9"/>
<ellipse cx="819" cy="606" rx="9.2" ry="4.4" fill="white" stroke="#151515" stroke-width="1.2"/>
<ellipse cx="819" cy="605.4" rx="6.6" ry="3.1" fill="white" stroke="#151515" stroke-width="1"/>
<path d="M814 603.5 L815 608 L819 609.5" fill="none" stroke="#151515" stroke-width="0.9"/>
<path d="M820 602.4 L820.5 607.5 L824.5 606" fill="none" stroke="#151515" stroke-width="0.9"/>
<ellipse cx="819.6" cy="641.6" rx="9.5" ry="4.8" fill="white" stroke="#151515" stroke-width="2.4"/>
<ellipse cx="819.6" cy="641.6" rx="9.5" ry="4.8" fill="none" stroke="white" stroke-width="0.8"/>
<ellipse cx="1124.5" cy="401.5" rx="9.2" ry="14" transform="rotate(-43 1124.5 401.5)" fill="#151515" stroke="#151515" stroke-width="1"/>
<path d="M1134 411.7 L1123 421.9 L1104 401.5 L1115 391.3Z" fill="#151515" stroke="#151515" stroke-width="1"/>
<ellipse cx="1113.5" cy="411.7" rx="9.2" ry="14" transform="rotate(-43 1113.5 411.7)" fill="#333" stroke="#151515" stroke-width="1"/>
<path d="M1121.8 427.5 L1107.6 425.3 L1101.6 430.9 L1115.8 433.1Z" fill="white" stroke="#151515" stroke-width="0.9"/>
<path d="M1107.6 425.3 L1097.4 411.3 L1091.4 416.9 L1101.6 430.9Z" fill="white" stroke="#151515" stroke-width="0.9"/>
<path d="M1097.4 411.3 L1101.2 399.5 L1095.2 405.1 L1091.4 416.9Z" fill="white" stroke="#151515" stroke-width="0.9"/>
<path d="M1101.2 399.5 L1115.4 401.7 L1109.4 407.3 L1095.2 405.1Z" fill="white" stroke="#151515" stroke-width="0.9"/>
<path d="M1115.4 401.7 L1125.6 415.7 L1119.6 421.3 L1109.4 407.3Z" fill="white" stroke="#151515" stroke-width="0.9"/>
<path d="M1125.6 415.7 L1121.8 427.5 L1115.8 433.1 L1119.6 421.3Z" fill="white" stroke="#151515" stroke-width="0.9"/>
<path d="M1115.8 433.1 L1101.6 430.9 L1091.4 416.9 L1095.2 405.1 L1109.4 407.3 L1119.6 421.3Z" fill="white" stroke="#151515" stroke-width="1"/>
<ellipse cx="1105.5" cy="419.1" rx="8.9" ry="13.5" transform="rotate(-43 1105.5 419.1)" fill="white" stroke="#151515" stroke-width="0.9"/>
<ellipse cx="1105.5" cy="419.1" rx="7.9" ry="12" transform="rotate(-43 1105.5 419.1)" fill="#151515" stroke="#151515" stroke-width="1"/>
<path d="M1113.7 427.9 L1106.2 434.8 L1089.8 417.2 L1097.3 410.3Z" fill="#151515" stroke="#151515" stroke-width="1"/>
<ellipse cx="1098" cy="426" rx="7.9" ry="12" transform="rotate(-43 1098 426)" fill="white" stroke="#151515" stroke-width="1"/>
<ellipse cx="1098" cy="426" rx="8.2" ry="12.5" transform="rotate(-43 1098 426)" fill="white" stroke="#151515" stroke-width="1"/>
<path d="M1106.5 435.1 L1104.5 437.1 L1087.5 418.9 L1089.5 416.9Z" fill="white" stroke="none" stroke-width="0"/>
<path d="M1106.5 435.1 L1104.5 437.1" fill="none" stroke="#151515" stroke-width="1"/>
<path d="M1089.5 416.9 L1087.5 418.9" fill="none" stroke="#151515" stroke-width="1"/>
<ellipse cx="1096" cy="428" rx="8.2" ry="12.5" transform="rotate(-43 1096 428)" fill="white" stroke="#151515" stroke-width="1"/>
<ellipse cx="1096" cy="428" rx="6.8" ry="10.3" transform="rotate(-43 1096 428)" fill="white" stroke="#151515" stroke-width="1"/>
<path d="M1103 435.5 L1091.2 448 L1078.2 434 L1089 420.5Z" fill="white" stroke="none" stroke-width="0"/>
<path d="M1103 435.5 L1091.2 448" fill="none" stroke="#151515" stroke-width="1"/>
<path d="M1089 420.5 L1078.2 434" fill="none" stroke="#151515" stroke-width="1"/>
<ellipse cx="1084.7" cy="441" rx="6.3" ry="9.6" transform="rotate(-43 1084.7 441)" fill="white" stroke="#151515" stroke-width="1"/>
<ellipse cx="1084.7" cy="441" rx="6.3" ry="9.6" transform="rotate(-43 1084.7 441)" fill="white" stroke="#151515" stroke-width="1.6"/>
<ellipse cx="1085" cy="440.7" rx="5" ry="7.6" transform="rotate(-43 1085 440.7)" fill="white" stroke="#151515" stroke-width="1"/>
<path d="M1079.5 441.5 L1090.7 445.6" fill="none" stroke="#151515" stroke-width="0.9"/>
<path d="M1078.7 437.6 L1088.1 447.2" fill="none" stroke="#151515" stroke-width="0.9"/>
<ellipse cx="1079.5" cy="451" rx="4.4" ry="11" transform="rotate(-43 1079.5 451)" fill="none" stroke="#151515" stroke-width="2.1"/>
<ellipse cx="1079.5" cy="451" rx="4.4" ry="11" transform="rotate(-43 1079.5 451)" fill="none" stroke="white" stroke-width="0.8"/>
<ellipse cx="1075.4" cy="454.8" rx="4.4" ry="11" transform="rotate(-43 1075.4 454.8)" fill="none" stroke="#151515" stroke-width="2.1"/>
<ellipse cx="1075.4" cy="454.8" rx="4.4" ry="11" transform="rotate(-43 1075.4 454.8)" fill="none" stroke="white" stroke-width="0.8"/>
<ellipse cx="1071.2" cy="458.5" rx="4.4" ry="11" transform="rotate(-43 1071.2 458.5)" fill="none" stroke="#151515" stroke-width="2.1"/>
<ellipse cx="1071.2" cy="458.5" rx="4.4" ry="11" transform="rotate(-43 1071.2 458.5)" fill="none" stroke="white" stroke-width="0.8"/>
<ellipse cx="1067.1" cy="462.2" rx="4.4" ry="11" transform="rotate(-43 1067.1 462.2)" fill="none" stroke="#151515" stroke-width="2.1"/>
<ellipse cx="1067.1" cy="462.2" rx="4.4" ry="11" transform="rotate(-43 1067.1 462.2)" fill="none" stroke="white" stroke-width="0.8"/>
<ellipse cx="1063" cy="466" rx="4.4" ry="11" transform="rotate(-43 1063 466)" fill="none" stroke="#151515" stroke-width="2.1"/>
<ellipse cx="1063" cy="466" rx="4.4" ry="11" transform="rotate(-43 1063 466)" fill="none" stroke="white" stroke-width="0.8"/>
<ellipse cx="1052.6" cy="474.6" rx="10.7" ry="16.2" transform="rotate(-43 1052.6 474.6)" fill="white" stroke="#151515" stroke-width="1"/>
<ellipse cx="1052.6" cy="474.6" rx="9.2" ry="14" transform="rotate(-43 1052.6 474.6)" fill="white" stroke="#151515" stroke-width="1"/>
<ellipse cx="1042.7" cy="484.1" rx="2.2" ry="7.8" transform="rotate(-43 1042.7 484.1)" fill="white" stroke="#151515" stroke-width="1.1"/>
<path d="M1048 489.8 L1036.9 501 L1026.3 489.6 L1037.4 478.4Z" fill="white" stroke="none" stroke-width="0"/>
<path d="M1048 489.8 L1036.9 501" fill="none" stroke="#151515" stroke-width="1.1"/>
<path d="M1037.4 478.4 L1026.3 489.6" fill="none" stroke="#151515" stroke-width="1.1"/>
<ellipse cx="1031.6" cy="495.3" rx="2.2" ry="7.8" transform="rotate(-43 1031.6 495.3)" fill="white" stroke="#151515" stroke-width="1.1"/>
<ellipse cx="1031.6" cy="495.3" rx="2.2" ry="7.8" transform="rotate(-43 1031.6 495.3)" fill="white" stroke="#151515" stroke-width="1.1"/>
<ellipse cx="1032.3" cy="494.6" rx="2" ry="7" transform="rotate(-43 1032.3 494.6)" fill="#151515" stroke="#151515" stroke-width="0.8"/>
<ellipse cx="1031.8" cy="495.1" rx="1.1" ry="5.6" transform="rotate(-43 1031.8 495.1)" fill="white" stroke="#151515" stroke-width="0.6"/>
<path d="M1046.1 491.6 C1046 491.6 1045.8 491.6 1045.7 491.6 C1045.5 491.6 1045.4 491.5 1045.2 491.5 C1045 491.4 1044.8 491.4 1044.6 491.3 C1044.4 491.2 1044.2 491.1 1044 490.9 C1043.8 490.8 1043.5 490.7 1043.3 490.5 C1043.1 490.3 1042.8 490.2 1042.6 490 C1042.3 489.8 1042.1 489.6 1041.8 489.4 C1041.5 489.2 1041.3 488.9 1041 488.7 C1040.8 488.5 1040.5 488.2 1040.3 488 C1040 487.7 1039.7 487.5 1039.5 487.2 C1039.3 486.9 1039 486.7 1038.8 486.4 C1038.5 486.1 1038.3 485.8 1038.1 485.6 C1037.9 485.3 1037.7 485 1037.5 484.7 C1037.3 484.5 1037.1 484.2 1036.9 483.9 C1036.8 483.7 1036.6 483.4 1036.5 483.2 C1036.3 482.9 1036.2 482.7 1036.1 482.5 C1036 482.2 1035.9 482 1035.8 481.8 C1035.7 481.6 1035.7 481.4 1035.6 481.2 C1035.6 481 1035.6 480.9 1035.5 480.7 C1035.5 480.6 1035.6 480.4 1035.6 480.3" fill="none" stroke="#151515" stroke-width="0.9"/>
<ellipse cx="1026.8" cy="499.4" rx="2" ry="6.2" transform="rotate(-43 1026.8 499.4)" fill="none" stroke="#151515" stroke-width="2.2"/>
<ellipse cx="1026.8" cy="499.4" rx="2" ry="6.2" transform="rotate(-43 1026.8 499.4)" fill="none" stroke="white" stroke-width="0.7"/>
<ellipse cx="1023" cy="503.7" rx="1" ry="3.5" transform="rotate(-43 1023 503.7)" fill="white" stroke="#151515" stroke-width="1.1"/>
<path d="M1025.4 506.3 L1019.8 512.1 L1015 506.9 L1020.6 501.1Z" fill="white" stroke="none" stroke-width="0"/>
<path d="M1025.4 506.3 L1019.8 512.1" fill="none" stroke="#151515" stroke-width="1.1"/>
<path d="M1020.6 501.1 L1015 506.9" fill="none" stroke="#151515" stroke-width="1.1"/>
<ellipse cx="1017.4" cy="509.5" rx="1" ry="3.5" transform="rotate(-43 1017.4 509.5)" fill="white" stroke="#151515" stroke-width="1.1"/>
<path d="M1020.8 510.9 C1020.8 510.9 1020.7 510.9 1020.6 510.9 C1020.6 510.9 1020.5 510.9 1020.4 510.9 C1020.4 510.9 1020.3 510.8 1020.2 510.8 C1020.1 510.8 1020 510.7 1019.9 510.6 C1019.8 510.6 1019.7 510.5 1019.6 510.5 C1019.5 510.4 1019.4 510.3 1019.3 510.2 C1019.1 510.1 1019 510 1018.9 510 C1018.8 509.9 1018.7 509.8 1018.6 509.6 C1018.5 509.5 1018.3 509.4 1018.2 509.3 C1018.1 509.2 1018 509.1 1017.9 509 C1017.8 508.8 1017.7 508.7 1017.6 508.6 C1017.5 508.5 1017.4 508.4 1017.3 508.2 C1017.2 508.1 1017.1 508 1017 507.9 C1016.9 507.7 1016.8 507.6 1016.7 507.5 C1016.7 507.4 1016.6 507.3 1016.5 507.2 C1016.5 507.1 1016.4 506.9 1016.3 506.8 C1016.3 506.7 1016.3 506.6 1016.2 506.6 C1016.2 506.5 1016.2 506.4 1016.1 506.3 C1016.1 506.2 1016.1 506.1 1016.1 506.1 C1016.1 506 1016.1 505.9 1016.1 505.9" fill="none" stroke="#151515" stroke-width="0.9"/>
<ellipse cx="1017.6" cy="510.2" rx="0.5" ry="1.9" transform="rotate(-43 1017.6 510.2)" fill="white" stroke="#151515" stroke-width="1"/>
<path d="M1018.9 511.6 L1012.3 516.8 L1009.7 514 L1016.3 508.8Z" fill="white" stroke="none" stroke-width="0"/>
<path d="M1018.9 511.6 L1012.3 516.8" fill="none" stroke="#151515" stroke-width="1"/>
<path d="M1016.3 508.8 L1009.7 514" fill="none" stroke="#151515" stroke-width="1"/>
<path d="M1013 517.1 L1005.4 524.8 L1001 520.2 L1008.6 512.5Z" fill="#151515" stroke="#151515" stroke-width="1"/>
<ellipse cx="1003.4" cy="522.2" rx="1.6" ry="5.6" transform="rotate(-43 1003.4 522.2)" fill="white" stroke="#151515" stroke-width="1.1"/>
<path d="M1007.2 526.3 L1004.8 528.7 L997.2 520.5 L999.6 518.1Z" fill="white" stroke="none" stroke-width="0"/>
<path d="M1007.2 526.3 L1004.8 528.7" fill="none" stroke="#151515" stroke-width="1.1"/>
<path d="M999.6 518.1 L997.2 520.5" fill="none" stroke="#151515" stroke-width="1.1"/>
<ellipse cx="1001" cy="524.6" rx="1.6" ry="5.6" transform="rotate(-43 1001 524.6)" fill="white" stroke="#151515" stroke-width="1.1"/>
<ellipse cx="999.8" cy="525.8" rx="1.8" ry="6.4" transform="rotate(-43 999.8 525.8)" fill="none" stroke="#151515" stroke-width="2.4"/>
<ellipse cx="999.8" cy="525.8" rx="1.8" ry="6.4" transform="rotate(-43 999.8 525.8)" fill="none" stroke="white" stroke-width="0.7"/>
<ellipse cx="997.8" cy="527.9" rx="1.8" ry="6.4" transform="rotate(-43 997.8 527.9)" fill="none" stroke="#151515" stroke-width="2.4"/>
<ellipse cx="997.8" cy="527.9" rx="1.8" ry="6.4" transform="rotate(-43 997.8 527.9)" fill="none" stroke="white" stroke-width="0.7"/>
<ellipse cx="996.6" cy="529.2" rx="1.6" ry="5.8" transform="rotate(-43 996.6 529.2)" fill="white" stroke="#151515" stroke-width="1.2"/>
<path d="M1000.6 533.4 L994.2 540 L986.2 531.6 L992.6 525Z" fill="white" stroke="none" stroke-width="0"/>
<path d="M1000.6 533.4 L994.2 540" fill="none" stroke="#151515" stroke-width="1.2"/>
<path d="M992.6 525 L986.2 531.6" fill="none" stroke="#151515" stroke-width="1.2"/>
<ellipse cx="990.2" cy="535.8" rx="1.6" ry="5.8" transform="rotate(-43 990.2 535.8)" fill="white" stroke="#151515" stroke-width="1.2"/>
<path d="M997.7 536.2 C997.6 536.2 997.5 536.2 997.4 536.2 C997.3 536.2 997.2 536.1 997 536.1 C996.9 536.1 996.8 536 996.6 535.9 C996.5 535.9 996.3 535.8 996.1 535.7 C996 535.6 995.8 535.5 995.6 535.4 C995.5 535.3 995.3 535.1 995.1 535 C994.9 534.8 994.7 534.7 994.5 534.5 C994.3 534.4 994.1 534.2 993.9 534 C993.8 533.9 993.6 533.7 993.4 533.5 C993.2 533.3 993 533.1 992.8 532.9 C992.6 532.7 992.4 532.5 992.3 532.3 C992.1 532.1 991.9 531.9 991.8 531.7 C991.6 531.5 991.5 531.3 991.3 531.1 C991.2 530.9 991 530.7 990.9 530.5 C990.8 530.3 990.7 530.1 990.5 529.9 C990.4 529.7 990.3 529.6 990.3 529.4 C990.2 529.2 990.1 529.1 990.1 528.9 C990 528.8 990 528.6 989.9 528.5 C989.9 528.3 989.9 528.2 989.9 528.1 C989.9 528 989.9 527.9 989.9 527.8" fill="none" stroke="#151515" stroke-width="1.6"/>
<ellipse cx="990" cy="536" rx="1.2" ry="4.2" transform="rotate(-43 990 536)" fill="white" stroke="#151515" stroke-width="1.6"/>
<path d="M992.9 539.1 L990.1 542.1 L984.3 535.9 L987.1 532.9Z" fill="white" stroke="none" stroke-width="0"/>
<path d="M992.9 539.1 L990.1 542.1" fill="none" stroke="#151515" stroke-width="1.6"/>
<path d="M987.1 532.9 L984.3 535.9" fill="none" stroke="#151515" stroke-width="1.6"/>
<ellipse cx="987.2" cy="539" rx="1.2" ry="4.2" transform="rotate(-43 987.2 539)" fill="white" stroke="#151515" stroke-width="1.6"/>
<path d="M991.1 540.8 C991 540.8 990.9 540.8 990.9 540.8 C990.8 540.8 990.7 540.7 990.6 540.7 C990.5 540.7 990.4 540.6 990.3 540.6 C990.2 540.5 990.1 540.5 990 540.4 C989.8 540.4 989.7 540.3 989.6 540.2 C989.5 540.1 989.3 540 989.2 539.9 C989.1 539.8 988.9 539.7 988.8 539.6 C988.6 539.5 988.5 539.3 988.4 539.2 C988.2 539.1 988.1 539 987.9 538.8 C987.8 538.7 987.7 538.5 987.5 538.4 C987.4 538.3 987.3 538.1 987.1 538 C987 537.8 986.9 537.7 986.8 537.5 C986.7 537.4 986.6 537.2 986.4 537.1 C986.3 536.9 986.2 536.8 986.2 536.7 C986.1 536.5 986 536.4 985.9 536.2 C985.8 536.1 985.8 536 985.7 535.9 C985.6 535.7 985.6 535.6 985.5 535.5 C985.5 535.4 985.5 535.3 985.4 535.2 C985.4 535.1 985.4 535 985.4 534.9 C985.4 534.8 985.4 534.7 985.4 534.7" fill="none" stroke="#151515" stroke-width="1.2"/>
<ellipse cx="983.3" cy="543.6" rx="1.8" ry="5.6" transform="rotate(-43 983.3 543.6)" fill="none" stroke="#151515" stroke-width="2"/>
<ellipse cx="983.3" cy="543.6" rx="1.8" ry="5.6" transform="rotate(-43 983.3 543.6)" fill="none" stroke="white" stroke-width="0.6"/>
<ellipse cx="958.5" cy="567.4" rx="7.8" ry="11.8" transform="rotate(-43 958.5 567.4)" fill="white" stroke="#151515" stroke-width="1"/>
<ellipse cx="958.5" cy="567.4" rx="5.7" ry="8.6" transform="rotate(-43 958.5 567.4)" fill="white" stroke="#151515" stroke-width="1"/>
<ellipse cx="944.3" cy="582.3" rx="5.3" ry="10.6" transform="rotate(-43 944.3 582.3)" fill="none" stroke="#151515" stroke-width="2.5"/>
<ellipse cx="944.3" cy="582.3" rx="5.3" ry="10.6" transform="rotate(-43 944.3 582.3)" fill="none" stroke="white" stroke-width="0.7"/>
<ellipse cx="941.6" cy="585" rx="5.3" ry="10.6" transform="rotate(-43 941.6 585)" fill="none" stroke="#151515" stroke-width="2.5"/>
<ellipse cx="941.6" cy="585" rx="5.3" ry="10.6" transform="rotate(-43 941.6 585)" fill="none" stroke="white" stroke-width="0.7"/>
<ellipse cx="939" cy="587.7" rx="5.3" ry="10.6" transform="rotate(-43 939 587.7)" fill="none" stroke="#151515" stroke-width="2.5"/>
<ellipse cx="939" cy="587.7" rx="5.3" ry="10.6" transform="rotate(-43 939 587.7)" fill="none" stroke="white" stroke-width="0.7"/>
<ellipse cx="936.3" cy="590.4" rx="5.3" ry="10.6" transform="rotate(-43 936.3 590.4)" fill="none" stroke="#151515" stroke-width="2.5"/>
<ellipse cx="936.3" cy="590.4" rx="5.3" ry="10.6" transform="rotate(-43 936.3 590.4)" fill="none" stroke="white" stroke-width="0.7"/>
<ellipse cx="933.6" cy="593.1" rx="5.3" ry="10.6" transform="rotate(-43 933.6 593.1)" fill="none" stroke="#151515" stroke-width="2.5"/>
<ellipse cx="933.6" cy="593.1" rx="5.3" ry="10.6" transform="rotate(-43 933.6 593.1)" fill="none" stroke="white" stroke-width="0.7"/>
<ellipse cx="930.9" cy="595.8" rx="5.3" ry="10.6" transform="rotate(-43 930.9 595.8)" fill="none" stroke="#151515" stroke-width="2.5"/>
<ellipse cx="930.9" cy="595.8" rx="5.3" ry="10.6" transform="rotate(-43 930.9 595.8)" fill="none" stroke="white" stroke-width="0.7"/>
<ellipse cx="928.3" cy="598.5" rx="5.3" ry="10.6" transform="rotate(-43 928.3 598.5)" fill="none" stroke="#151515" stroke-width="2.5"/>
<ellipse cx="928.3" cy="598.5" rx="5.3" ry="10.6" transform="rotate(-43 928.3 598.5)" fill="none" stroke="white" stroke-width="0.7"/>
<ellipse cx="925.6" cy="601.2" rx="5.3" ry="10.6" transform="rotate(-43 925.6 601.2)" fill="none" stroke="#151515" stroke-width="2.5"/>
<ellipse cx="925.6" cy="601.2" rx="5.3" ry="10.6" transform="rotate(-43 925.6 601.2)" fill="none" stroke="white" stroke-width="0.7"/>
<ellipse cx="925.8" cy="601.2" rx="3.8" ry="7.5" transform="rotate(-43 925.8 601.2)" fill="none" stroke="#151515" stroke-width="1"/>
<ellipse cx="926.4" cy="600.6" rx="2.3" ry="4.6" transform="rotate(-43 926.4 600.6)" fill="none" stroke="#151515" stroke-width="1.6"/>
<ellipse cx="916.9" cy="607.4" rx="7" ry="11.6" transform="rotate(-43 916.9 607.4)" fill="white" stroke="#151515" stroke-width="2.2"/>
<ellipse cx="915.3" cy="609" rx="7" ry="11.6" transform="rotate(-43 915.3 609)" fill="white" stroke="#151515" stroke-width="1.6"/>
<ellipse cx="913.7" cy="610.6" rx="7" ry="11.6" transform="rotate(-43 913.7 610.6)" fill="white" stroke="#151515" stroke-width="1.4"/>
<ellipse cx="913.1" cy="611.2" rx="1.6" ry="2.6" transform="rotate(-43 913.1 611.2)" fill="white" stroke="#151515" stroke-width="0.9"/>
<ellipse cx="901.9" cy="621.8" rx="6.2" ry="10.4" transform="rotate(-43 901.9 621.8)" fill="white" stroke="#151515" stroke-width="1"/>
<ellipse cx="901.6" cy="622.1" rx="4.7" ry="7.8" transform="rotate(-43 901.6 622.1)" fill="white" stroke="#151515" stroke-width="0.9"/>
<ellipse cx="905" cy="619" rx="2.6" ry="4" transform="rotate(-43 905 619)" fill="white" stroke="#151515" stroke-width="1"/>
<path d="M907.7 621.9 L905.2 624.4 L899.8 618.6 L902.3 616.1Z" fill="white" stroke="none" stroke-width="0"/>
<path d="M907.7 621.9 L905.2 624.4" fill="none" stroke="#151515" stroke-width="1"/>
<path d="M902.3 616.1 L899.8 618.6" fill="none" stroke="#151515" stroke-width="1"/>
<ellipse cx="902.5" cy="621.5" rx="2.6" ry="4" transform="rotate(-43 902.5 621.5)" fill="white" stroke="#151515" stroke-width="1"/>
<ellipse cx="902" cy="622" rx="1.7" ry="2.6" transform="rotate(-43 902 622)" fill="white" stroke="#151515" stroke-width="1"/>
<path d="M903.8 623.9 L893.3 633.9 L889.7 630.1 L900.2 620.1Z" fill="white" stroke="none" stroke-width="0"/>
<path d="M903.8 623.9 L893.3 633.9" fill="none" stroke="#151515" stroke-width="1"/>
<path d="M900.2 620.1 L889.7 630.1" fill="none" stroke="#151515" stroke-width="1"/>
<ellipse cx="891.8" cy="631.4" rx="3.3" ry="5" transform="rotate(-43 891.8 631.4)" fill="white" stroke="#151515" stroke-width="1.1"/>
<path d="M895.2 635.1 L891.4 638.9 L884.6 631.5 L888.4 627.7Z" fill="white" stroke="none" stroke-width="0"/>
<path d="M895.2 635.1 L891.4 638.9" fill="none" stroke="#151515" stroke-width="1.1"/>
<path d="M888.4 627.7 L884.6 631.5" fill="none" stroke="#151515" stroke-width="1.1"/>
<ellipse cx="888" cy="635.2" rx="3.3" ry="5" transform="rotate(-43 888 635.2)" fill="white" stroke="#151515" stroke-width="1.1"/>
<path d="M889.3 638.3 L886.3 636.8 L885 633.7 L886.7 632.1 L889.7 633.6 L891 636.7Z" fill="white" stroke="#151515" stroke-width="0.8"/>
<ellipse cx="1039.8" cy="346.4" rx="3" ry="5.4" transform="rotate(49.5 1039.8 346.4)" fill="white" stroke="#4a4a4a" stroke-width="2"/>
<path d="M1039.5 352.7 L1042.5 356.2 L1048.3 351.3 L1045.3 347.8Z" fill="#3a3a3a" stroke="#151515" stroke-width="1"/>
<path d="M1043.7 355.7 L1047.6 360.3 L1051.5 356.9 L1047.6 352.3Z" fill="white" stroke="#151515" stroke-width="1"/>
<path d="M1044 363.1 L1048.3 368.1 L1059.4 358.7 L1055.1 353.7Z" fill="white" stroke="#151515" stroke-width="1"/>
<path d="M1051.5 356.7 L1055.8 361.7" fill="none" stroke="#151515" stroke-width="0.8"/>
<path d="M1047.6 360.1 L1051.9 365.1" fill="none" stroke="#151515" stroke-width="0.8"/>
<path d="M1050 367.3 L1053.4 371.3 L1061.8 364.1 L1058.4 360.1Z" fill="#151515" stroke="#151515" stroke-width="1"/>
<ellipse cx="1060.5" cy="370.6" rx="2.8" ry="5" transform="rotate(49.5 1060.5 370.6)" fill="white" stroke="#4a4a4a" stroke-width="2"/>
<ellipse cx="1063.6" cy="375" rx="1.3" ry="2.4" transform="rotate(49.5 1063.6 375)" fill="white" stroke="#151515" stroke-width="0.9"/>
<path d="M1063.4 379.1 L1067.6 384 L1072.6 379.7 L1068.4 374.8Z" fill="#151515" stroke="#151515" stroke-width="1"/>
<path d="M1043.3 393 C1043.8 391.7 1044.9 389.7 1046.4 388.6 C1048 387.5 1050.6 386.8 1052.6 386.4 C1054.6 386 1057.2 385.5 1058.3 386 C1059.4 386.5 1059.4 387.9 1059.2 389.5 C1059 391.1 1058.1 393.9 1057 395.7 C1055.9 397.5 1054.1 399.4 1052.6 400.5 C1051.1 401.6 1049.5 402.4 1048.2 402.3 C1046.9 402.2 1045.4 401.1 1044.6 400.1 C1043.8 399.2 1043.5 397.8 1043.3 396.6 C1043.1 395.4 1042.8 394.3 1043.3 393Z" fill="white" stroke="#151515" stroke-width="1.3"/>
<path d="M1048.6 389.4 C1048.5 390.2 1047.7 392.9 1048.2 394.5 C1048.7 396.1 1050.6 398.2 1051.6 399 C1052.6 399.8 1053.6 399.2 1054 399.2" fill="none" stroke="#151515" stroke-width="1"/>
<path d="M1051.4 388 C1051.3 388.8 1050.6 391.1 1051 392.5 C1051.4 393.9 1053.1 395.6 1054 396.2 C1054.9 396.8 1056 396.2 1056.4 396.2" fill="none" stroke="#151515" stroke-width="0.9"/>
<path d="M1053.6 387.4 C1053.8 388 1053.9 389.9 1054.6 390.8 C1055.3 391.7 1057.1 392.3 1057.6 392.6" fill="none" stroke="#151515" stroke-width="0.9"/>
<path d="M1044.6 398.2 C1045 398.2 1046.6 398 1047.2 398.4 C1047.8 398.8 1047.9 400.4 1048 400.8" fill="none" stroke="#151515" stroke-width="1.1"/>
<ellipse cx="596.2" cy="798.4" rx="2.4" ry="4.3" transform="rotate(14 596.2 798.4)" fill="#151515" stroke="#151515" stroke-width="1"/>
<path d="M597.2 794.2 L612 797.4 L610 805.8 L595.2 802.6Z" fill="#151515" stroke="#151515" stroke-width="1"/>
<ellipse cx="611" cy="801.6" rx="2.4" ry="4.3" transform="rotate(14 611 801.6)" fill="#151515" stroke="#151515" stroke-width="1"/>
<ellipse cx="611" cy="801.6" rx="4.1" ry="7.4" transform="rotate(14 611 801.6)" fill="white" stroke="#151515" stroke-width="1.1"/>
<path d="M612.8 794.4 L621.8 796.3 L618.2 810.7 L609.2 808.8Z" fill="white" stroke="none" stroke-width="0"/>
<path d="M612.8 794.4 L621.8 796.3" fill="none" stroke="#151515" stroke-width="1.1"/>
<path d="M609.2 808.8 L618.2 810.7" fill="none" stroke="#151515" stroke-width="1.1"/>
<ellipse cx="620" cy="803.5" rx="4.1" ry="7.4" transform="rotate(14 620 803.5)" fill="white" stroke="#151515" stroke-width="1.1"/>
<ellipse cx="620" cy="803.5" rx="4.1" ry="7.4" transform="rotate(14 620 803.5)" fill="white" stroke="#151515" stroke-width="1.6"/>
<ellipse cx="620" cy="803.5" rx="3" ry="5.4" transform="rotate(14 620 803.5)" fill="white" stroke="#151515" stroke-width="1.6"/>
<ellipse cx="620" cy="803.5" rx="1.7" ry="3" transform="rotate(14 620 803.5)" fill="white" stroke="#151515" stroke-width="0.9"/>
<ellipse cx="801.4" cy="818.3" rx="2.2" ry="4" transform="rotate(14 801.4 818.3)" fill="#151515" stroke="#151515" stroke-width="1"/>
<path d="M802.4 814.4 L817 817.7 L815 825.5 L800.4 822.2Z" fill="#151515" stroke="#151515" stroke-width="1"/>
<ellipse cx="816" cy="821.6" rx="2.2" ry="4" transform="rotate(14 816 821.6)" fill="#151515" stroke="#151515" stroke-width="1"/>
<ellipse cx="816" cy="821.6" rx="3.8" ry="6.9" transform="rotate(14 816 821.6)" fill="white" stroke="#151515" stroke-width="1.1"/>
<path d="M817.7 814.9 L826.7 816.9 L823.3 830.3 L814.3 828.3Z" fill="white" stroke="none" stroke-width="0"/>
<path d="M817.7 814.9 L826.7 816.9" fill="none" stroke="#151515" stroke-width="1.1"/>
<path d="M814.3 828.3 L823.3 830.3" fill="none" stroke="#151515" stroke-width="1.1"/>
<ellipse cx="825" cy="823.6" rx="3.8" ry="6.9" transform="rotate(14 825 823.6)" fill="white" stroke="#151515" stroke-width="1.1"/>
<ellipse cx="825" cy="823.6" rx="3.8" ry="6.9" transform="rotate(14 825 823.6)" fill="white" stroke="#151515" stroke-width="1.6"/>
<ellipse cx="825" cy="823.6" rx="2.7" ry="4.9" transform="rotate(14 825 823.6)" fill="white" stroke="#151515" stroke-width="1.6"/>
<ellipse cx="825" cy="823.6" rx="1.4" ry="2.5" transform="rotate(14 825 823.6)" fill="white" stroke="#151515" stroke-width="0.9"/>
<ellipse cx="768.5" cy="791" rx="11" ry="16.6" transform="rotate(-43 768.5 791)" fill="white" stroke="#151515" stroke-width="1"/>
<ellipse cx="768.5" cy="791" rx="9.4" ry="14.2" transform="rotate(-43 768.5 791)" fill="white" stroke="#151515" stroke-width="1"/>
<ellipse cx="758.5" cy="801.5" rx="7.3" ry="11" transform="rotate(-43 758.5 801.5)" fill="#151515" stroke="#151515" stroke-width="1"/>
<path d="M766 809.5 L757.5 817.5 L742.5 801.5 L751 793.5Z" fill="#151515" stroke="#151515" stroke-width="1"/>
<path d="M761.9 825 L746.6 824 L741.1 829.2 L756.4 830.2Z" fill="white" stroke="#151515" stroke-width="0.9"/>
<path d="M746.6 824 L734.2 809 L728.7 814.2 L741.1 829.2Z" fill="white" stroke="#151515" stroke-width="0.9"/>
<path d="M734.2 809 L737.1 795 L731.6 800.2 L728.7 814.2Z" fill="white" stroke="#151515" stroke-width="0.9"/>
<path d="M737.1 795 L752.4 796 L746.9 801.2 L731.6 800.2Z" fill="white" stroke="#151515" stroke-width="0.9"/>
<path d="M752.4 796 L764.8 811 L759.3 816.2 L746.9 801.2Z" fill="white" stroke="#151515" stroke-width="0.9"/>
<path d="M764.8 811 L761.9 825 L756.4 830.2 L759.3 816.2Z" fill="white" stroke="#151515" stroke-width="0.9"/>
<path d="M756.4 830.2 L741.1 829.2 L728.7 814.2 L731.6 800.2 L746.9 801.2 L759.3 816.2Z" fill="white" stroke="#151515" stroke-width="1"/>
<ellipse cx="744" cy="815.2" rx="11" ry="16.6" transform="rotate(-43 744 815.2)" fill="#2a2a2a" stroke="#151515" stroke-width="1"/>
<path d="M755.3 827.3 L741.9 838.3 L719.3 814.1 L732.7 803.1Z" fill="#2a2a2a" stroke="#151515" stroke-width="1"/>
<ellipse cx="730.6" cy="826.2" rx="11.1" ry="16.8" transform="rotate(-43 730.6 826.2)" fill="white" stroke="#151515" stroke-width="1.6"/>
<ellipse cx="730.9" cy="825.9" rx="9" ry="13.6" transform="rotate(-43 730.9 825.9)" fill="white" stroke="#151515" stroke-width="1"/>
<path d="M725.8 813.5 C726 813.5 726.4 813.2 726.8 813.1 C727.1 813 727.5 812.9 727.8 812.9 C728.2 812.8 728.6 812.8 729 812.8 C729.4 812.8 729.8 812.8 730.2 812.8 C730.6 812.9 731 813 731.4 813.1 C731.8 813.2 732.3 813.3 732.7 813.5 C733.1 813.6 733.6 813.8 734 814 C734.4 814.2 734.8 814.4 735.3 814.7 C735.7 814.9 736.1 815.2 736.5 815.5 C736.9 815.8 737.3 816.1 737.7 816.4 C738.1 816.7 738.5 817.1 738.8 817.5 C739.2 817.8 739.5 818.2 739.9 818.6 C740.2 819 740.5 819.4 740.8 819.8 C741.1 820.2 741.4 820.6 741.6 821.1 C741.9 821.5 742.1 821.9 742.3 822.4 C742.6 822.8 742.7 823.2 742.9 823.7 C743.1 824.1 743.2 824.6 743.3 825 C743.5 825.4 743.5 825.9 743.6 826.3 C743.7 826.7 743.7 827.1 743.7 827.5 C743.7 828 743.7 828.5 743.7 828.7" fill="none" stroke="#151515" stroke-width="0.9"/>
<ellipse cx="736.5" cy="820.5" rx="1.6" ry="2.4" transform="rotate(-43 736.5 820.5)" fill="#151515" stroke="#151515" stroke-width="0.8"/>
<ellipse cx="711.6" cy="848" rx="12.3" ry="15.4" transform="rotate(-43 711.6 848)" fill="white" stroke="#151515" stroke-width="1.2"/>
<ellipse cx="711.6" cy="848" rx="11" ry="13.8" transform="rotate(-43 711.6 848)" fill="white" stroke="#151515" stroke-width="0.9"/>
<clipPath id="mesh"><ellipse cx="711.6" cy="848" rx="9.8" ry="12.2" transform="rotate(-43 711.6 848)"/></clipPath>
<g clip-path="url(#mesh)" stroke="#151515" stroke-width="0.75">
<line x1="680.1" y1="834" x2="708.1" y2="862"/>
<line x1="708.1" y1="834" x2="680.1" y2="862"/>
<line x1="682.6" y1="834" x2="710.6" y2="862"/>
<line x1="710.6" y1="834" x2="682.6" y2="862"/>
<line x1="685.1" y1="834" x2="713.1" y2="862"/>
<line x1="713.1" y1="834" x2="685.1" y2="862"/>
<line x1="687.6" y1="834" x2="715.6" y2="862"/>
<line x1="715.6" y1="834" x2="687.6" y2="862"/>
<line x1="690.1" y1="834" x2="718.1" y2="862"/>
<line x1="718.1" y1="834" x2="690.1" y2="862"/>
<line x1="692.6" y1="834" x2="720.6" y2="862"/>
<line x1="720.6" y1="834" x2="692.6" y2="862"/>
<line x1="695.1" y1="834" x2="723.1" y2="862"/>
<line x1="723.1" y1="834" x2="695.1" y2="862"/>
<line x1="697.6" y1="834" x2="725.6" y2="862"/>
<line x1="725.6" y1="834" x2="697.6" y2="862"/>
<line x1="700.1" y1="834" x2="728.1" y2="862"/>
<line x1="728.1" y1="834" x2="700.1" y2="862"/>
<line x1="702.6" y1="834" x2="730.6" y2="862"/>
<line x1="730.6" y1="834" x2="702.6" y2="862"/>
<line x1="705.1" y1="834" x2="733.1" y2="862"/>
<line x1="733.1" y1="834" x2="705.1" y2="862"/>
<line x1="707.6" y1="834" x2="735.6" y2="862"/>
<line x1="735.6" y1="834" x2="707.6" y2="862"/>
<line x1="710.1" y1="834" x2="738.1" y2="862"/>
<line x1="738.1" y1="834" x2="710.1" y2="862"/>
<line x1="712.6" y1="834" x2="740.6" y2="862"/>
<line x1="740.6" y1="834" x2="712.6" y2="862"/>
<line x1="715.1" y1="834" x2="743.1" y2="862"/>
<line x1="743.1" y1="834" x2="715.1" y2="862"/>
</g>
<ellipse cx="711.6" cy="848" rx="9.8" ry="12.2" transform="rotate(-43 711.6 848)" fill="none" stroke="#151515" stroke-width="1"/>
<ellipse cx="688.6" cy="831" rx="3.6" ry="5.4" transform="rotate(-43 688.6 831)" fill="white" stroke="#151515" stroke-width="1"/>
<path d="M692.3 834.9 L690.2 836.9 L682.8 829.1 L684.9 827.1Z" fill="white" stroke="none" stroke-width="0"/>
<path d="M692.3 834.9 L690.2 836.9" fill="none" stroke="#151515" stroke-width="1"/>
<path d="M684.9 827.1 L682.8 829.1" fill="none" stroke="#151515" stroke-width="1"/>
<ellipse cx="686.5" cy="833" rx="3.6" ry="5.4" transform="rotate(-43 686.5 833)" fill="white" stroke="#151515" stroke-width="1"/>
<ellipse cx="688.6" cy="831" rx="3.6" ry="5.4" transform="rotate(-43 688.6 831)" fill="white" stroke="#151515" stroke-width="1"/>
<ellipse cx="688.8" cy="830.8" rx="2.4" ry="3.6" transform="rotate(-43 688.8 830.8)" fill="white" stroke="#151515" stroke-width="0.9"/>
<path d="M690.2 836.9 L682.8 829.1 L680.3 837.3 L684.5 837.9Z" fill="white" stroke="none" stroke-width="0"/>
<ellipse cx="686.5" cy="833" rx="3.6" ry="5.4" transform="rotate(-43 686.5 833)" fill="white" stroke="#151515" stroke-width="1"/>
<ellipse cx="683" cy="836.5" rx="1.5" ry="2.2" transform="rotate(-43 683 836.5)" fill="white" stroke="#151515" stroke-width="1"/>
<path d="M684.5 838.1 L668 854.4 L665 851.2 L681.5 834.9Z" fill="white" stroke="none" stroke-width="0"/>
<path d="M684.5 838.1 L668 854.4" fill="none" stroke="#151515" stroke-width="1"/>
<path d="M681.5 834.9 L665 851.2" fill="none" stroke="#151515" stroke-width="1"/>
<ellipse cx="666.5" cy="852.8" rx="1.5" ry="2.2" transform="rotate(-43 666.5 852.8)" fill="white" stroke="#151515" stroke-width="1"/>
<ellipse cx="658.5" cy="862.6" rx="2.3" ry="6.3" transform="rotate(-43 658.5 862.6)" fill="none" stroke="#151515" stroke-width="2"/>
<ellipse cx="658.5" cy="862.6" rx="2.3" ry="6.3" transform="rotate(-43 658.5 862.6)" fill="none" stroke="white" stroke-width="0.6"/>
<ellipse cx="656.1" cy="865.1" rx="2.3" ry="6.3" transform="rotate(-43 656.1 865.1)" fill="none" stroke="#151515" stroke-width="2"/>
<ellipse cx="656.1" cy="865.1" rx="2.3" ry="6.3" transform="rotate(-43 656.1 865.1)" fill="none" stroke="white" stroke-width="0.6"/>
<ellipse cx="653.6" cy="867.6" rx="2.3" ry="6.3" transform="rotate(-43 653.6 867.6)" fill="none" stroke="#151515" stroke-width="2"/>
<ellipse cx="653.6" cy="867.6" rx="2.3" ry="6.3" transform="rotate(-43 653.6 867.6)" fill="none" stroke="white" stroke-width="0.6"/>
<ellipse cx="651.2" cy="870.1" rx="2.3" ry="6.3" transform="rotate(-43 651.2 870.1)" fill="none" stroke="#151515" stroke-width="2"/>
<ellipse cx="651.2" cy="870.1" rx="2.3" ry="6.3" transform="rotate(-43 651.2 870.1)" fill="none" stroke="white" stroke-width="0.6"/>
<ellipse cx="648.8" cy="872.6" rx="2.3" ry="6.3" transform="rotate(-43 648.8 872.6)" fill="none" stroke="#151515" stroke-width="2"/>
<ellipse cx="648.8" cy="872.6" rx="2.3" ry="6.3" transform="rotate(-43 648.8 872.6)" fill="none" stroke="white" stroke-width="0.6"/>
<path d="M643.7 888.1 L638 888.3 L635 891.3 L640.7 891.1Z" fill="white" stroke="#151515" stroke-width="0.9"/>
<path d="M638 888.3 L632.9 882.8 L629.9 885.8 L635 891.3Z" fill="white" stroke="#151515" stroke-width="0.9"/>
<path d="M632.9 882.8 L633.5 877.1 L630.5 880.1 L629.9 885.8Z" fill="white" stroke="#151515" stroke-width="0.9"/>
<path d="M633.5 877.1 L639.2 876.9 L636.2 879.9 L630.5 880.1Z" fill="white" stroke="#151515" stroke-width="0.9"/>
<path d="M639.2 876.9 L644.3 882.4 L641.3 885.4 L636.2 879.9Z" fill="white" stroke="#151515" stroke-width="0.9"/>
<path d="M644.3 882.4 L643.7 888.1 L640.7 891.1 L641.3 885.4Z" fill="white" stroke="#151515" stroke-width="0.9"/>
<path d="M643.7 888.1 L638 888.3 L632.9 882.8 L633.5 877.1 L639.2 876.9 L644.3 882.4Z" fill="white" stroke="#151515" stroke-width="0.9"/>
<ellipse cx="638.6" cy="882.6" rx="2.1" ry="3.2" transform="rotate(-43 638.6 882.6)" fill="white" stroke="#151515" stroke-width="0.9"/>
<ellipse cx="627.4" cy="894.2" rx="2.4" ry="3.6" transform="rotate(-43 627.4 894.2)" fill="#151515" stroke="#151515" stroke-width="1"/>
<path d="M629.9 896.8 L627.5 899.4 L622.5 894.2 L624.9 891.6Z" fill="#151515" stroke="#151515" stroke-width="1"/>
<ellipse cx="625" cy="896.8" rx="2.4" ry="3.6" transform="rotate(-43 625 896.8)" fill="#151515" stroke="#151515" stroke-width="1"/>
<ellipse cx="615.6" cy="907" rx="5" ry="10" transform="rotate(-43 615.6 907)" fill="none" stroke="#151515" stroke-width="2.4"/>
<ellipse cx="615.6" cy="907" rx="5" ry="10" transform="rotate(-43 615.6 907)" fill="none" stroke="white" stroke-width="0.7"/>
<ellipse cx="600" cy="923.2" rx="6.1" ry="9.2" transform="rotate(-43 600 923.2)" fill="white" stroke="#151515" stroke-width="1"/>
<path d="M606.3 929.9 L611.9 924.5 L599.3 911.1 L593.7 916.5Z" fill="white" stroke="none" stroke-width="0"/>
<path d="M606.3 929.9 L611.9 924.5" fill="none" stroke="#151515" stroke-width="1"/>
<path d="M593.7 916.5 L599.3 911.1" fill="none" stroke="#151515" stroke-width="1"/>
<ellipse cx="605.6" cy="917.8" rx="6.1" ry="9.2" transform="rotate(-43 605.6 917.8)" fill="white" stroke="#151515" stroke-width="1"/>
<ellipse cx="605.6" cy="917.8" rx="6.1" ry="9.2" transform="rotate(-43 605.6 917.8)" fill="white" stroke="#151515" stroke-width="1"/>
<ellipse cx="605.4" cy="918" rx="4.6" ry="7" transform="rotate(-43 605.4 918)" fill="white" stroke="#151515" stroke-width="1"/>
<path d="M600.7 913.5 C600.8 913.5 601.1 913.4 601.3 913.4 C601.5 913.4 601.7 913.4 601.9 913.4 C602.2 913.4 602.4 913.4 602.6 913.5 C602.8 913.5 603.1 913.6 603.3 913.6 C603.6 913.7 603.8 913.8 604 913.9 C604.3 914 604.5 914.1 604.7 914.2 C605 914.3 605.2 914.5 605.4 914.6 C605.7 914.8 605.9 914.9 606.1 915.1 C606.3 915.3 606.6 915.5 606.8 915.6 C607 915.8 607.2 916 607.4 916.2 C607.6 916.5 607.8 916.7 607.9 916.9 C608.1 917.1 608.3 917.3 608.4 917.6 C608.6 917.8 608.7 918.1 608.9 918.3 C609 918.5 609.1 918.8 609.2 919 C609.3 919.3 609.4 919.5 609.5 919.8 C609.6 920 609.7 920.2 609.7 920.5 C609.8 920.7 609.8 921 609.8 921.2 C609.8 921.4 609.9 921.7 609.8 921.9 C609.8 922.1 609.8 922.3 609.8 922.5 C609.8 922.7 609.7 923 609.6 923.1" fill="none" stroke="#151515" stroke-width="0.8"/>
<ellipse cx="601.2" cy="922" rx="6.3" ry="9.6" transform="rotate(-43 601.2 922)" fill="none" stroke="#151515" stroke-width="2"/>
<ellipse cx="601.2" cy="922" rx="6.3" ry="9.6" transform="rotate(-43 601.2 922)" fill="none" stroke="white" stroke-width="0.6"/>
<path d="M585.6 923 L590.3 915.5 L593.7 912.1 L604.7 915.7 L611 926.8 L606.3 934.3 L602.9 937.7 L591.9 934.1Z" fill="white" stroke="#151515" stroke-width="1.1"/>
<path d="M606.3 934.3 L595.3 930.7" fill="none" stroke="#151515" stroke-width="0.8"/>
<path d="M595.3 930.7 L589 919.6" fill="none" stroke="#151515" stroke-width="0.8"/>
<path d="M589 919.6 L593.7 912.1" fill="none" stroke="#151515" stroke-width="0.8"/>
<path d="M593.7 912.1 L604.7 915.7" fill="none" stroke="#151515" stroke-width="0.8"/>
<path d="M604.7 915.7 L611 926.8" fill="none" stroke="#151515" stroke-width="0.8"/>
<path d="M611 926.8 L606.3 934.3" fill="none" stroke="#151515" stroke-width="0.8"/>
<path d="M589 919.6 L585.6 923" fill="none" stroke="#151515" stroke-width="0.8"/>
<path d="M593.7 912.1 L590.3 915.5" fill="none" stroke="#151515" stroke-width="0.8"/>
<path d="M604.7 915.7 L601.3 919.1" fill="none" stroke="#151515" stroke-width="0.8"/>
<path d="M611 926.8 L607.6 930.2" fill="none" stroke="#151515" stroke-width="0.8"/>
<ellipse cx="600" cy="923.2" rx="6.2" ry="9.4" transform="rotate(-43 600 923.2)" fill="white" stroke="#151515" stroke-width="1"/>
<path d="M606.3 929.9 L611.9 924.5 L599.3 911.1 L593.7 916.5Z" fill="white" stroke="none" stroke-width="0"/>
<path d="M606.3 929.9 L611.9 924.5" fill="none" stroke="#151515" stroke-width="1"/>
<path d="M593.7 916.5 L599.3 911.1" fill="none" stroke="#151515" stroke-width="1"/>
<ellipse cx="605.6" cy="917.8" rx="6.1" ry="9.2" transform="rotate(-43 605.6 917.8)" fill="white" stroke="#151515" stroke-width="1"/>
<ellipse cx="605.4" cy="918" rx="4.6" ry="7" transform="rotate(-43 605.4 918)" fill="white" stroke="#151515" stroke-width="1"/>
<path d="M600.7 913.5 C600.8 913.5 601.1 913.4 601.3 913.4 C601.5 913.4 601.7 913.4 601.9 913.4 C602.2 913.4 602.4 913.4 602.6 913.5 C602.8 913.5 603.1 913.6 603.3 913.6 C603.6 913.7 603.8 913.8 604 913.9 C604.3 914 604.5 914.1 604.7 914.2 C605 914.3 605.2 914.5 605.4 914.6 C605.7 914.8 605.9 914.9 606.1 915.1 C606.3 915.3 606.6 915.5 606.8 915.6 C607 915.8 607.2 916 607.4 916.2 C607.6 916.5 607.8 916.7 607.9 916.9 C608.1 917.1 608.3 917.3 608.4 917.6 C608.6 917.8 608.7 918.1 608.9 918.3 C609 918.5 609.1 918.8 609.2 919 C609.3 919.3 609.4 919.5 609.5 919.8 C609.6 920 609.7 920.2 609.7 920.5 C609.8 920.7 609.8 921 609.8 921.2 C609.8 921.4 609.9 921.7 609.8 921.9 C609.8 922.1 609.8 922.3 609.8 922.5 C609.8 922.7 609.7 923 609.6 923.1" fill="none" stroke="#151515" stroke-width="0.8"/>
<path d="M608.1 928 C608 928.2 607.7 928.5 607.4 928.7 C607.1 928.9 606.8 929.1 606.5 929.2 C606.2 929.4 605.8 929.5 605.5 929.5 C605.1 929.6 604.7 929.6 604.3 929.6 C604 929.6 603.5 929.5 603.1 929.5 C602.7 929.4 602.3 929.3 601.9 929.1 C601.4 929 601 928.8 600.6 928.5 C600.2 928.3 599.7 928.1 599.3 927.8 C598.9 927.5 598.5 927.2 598.2 926.9 C597.8 926.6 597.4 926.2 597.1 925.8 C596.7 925.5 596.4 925.1 596.1 924.7 C595.8 924.3 595.5 923.8 595.3 923.4 C595 923 594.8 922.6 594.6 922.1 C594.4 921.7 594.3 921.3 594.1 920.8 C594 920.4 593.9 920 593.9 919.5 C593.8 919.1 593.8 918.7 593.8 918.3 C593.8 917.9 593.9 917.5 594 917.2 C594.1 916.8 594.2 916.5 594.3 916.2 C594.5 915.9 594.7 915.6 594.9 915.3 C595.1 915.1 595.5 914.7 595.6 914.6" fill="none" stroke="#151515" stroke-width="0.9"/>
<path d="M609.6 926.5 C609.5 926.7 609.2 927 608.9 927.2 C608.6 927.4 608.3 927.6 608 927.7 C607.7 927.9 607.3 928 607 928 C606.6 928.1 606.2 928.1 605.8 928.1 C605.5 928.1 605 928 604.6 928 C604.2 927.9 603.8 927.8 603.4 927.6 C602.9 927.5 602.5 927.3 602.1 927 C601.7 926.8 601.2 926.6 600.8 926.3 C600.4 926 600 925.7 599.7 925.4 C599.3 925.1 598.9 924.7 598.6 924.3 C598.2 924 597.9 923.6 597.6 923.2 C597.3 922.8 597 922.3 596.8 921.9 C596.5 921.5 596.3 921.1 596.1 920.6 C595.9 920.2 595.8 919.8 595.6 919.3 C595.5 918.9 595.4 918.5 595.4 918 C595.3 917.6 595.3 917.2 595.3 916.8 C595.3 916.4 595.4 916 595.5 915.7 C595.6 915.3 595.7 915 595.8 914.7 C596 914.4 596.2 914.1 596.4 913.8 C596.6 913.6 597 913.2 597.1 913.1" fill="none" stroke="#151515" stroke-width="0.9"/>
<path d="M567.2 915.4 C568.7 914.8 571.3 915.2 573 915.9 C574.7 916.6 578.4 919 579.7 920.7 C581 922.4 582.3 926.7 582.6 928.4 C582.9 930.1 582.4 931.7 581.6 933.2 C580.8 934.7 578.9 937.4 576.8 939.9 C574.7 942.4 568.4 949.3 566 952 C563.6 954.7 559.3 958.6 559 960.5 C558.7 962.4 562.9 964.4 563.5 966 C564.1 967.6 564.3 970.9 563.8 972.5 C563.3 974.1 560.2 976.5 559.5 978.3 C558.8 980.1 559.5 984.5 558.5 986 C557.5 987.5 554 989.8 551.8 989.8 C549.6 989.8 544.3 988.1 542.2 986 C540.1 983.9 537.4 977.1 536 974 C534.6 970.9 532.4 965.2 531.7 963 C531 960.8 530.4 958.9 530.7 957.2 C531 955.5 531.6 953.2 533.6 950.5 C535.6 947.8 542.3 941 546 937 C549.7 933 558.6 923.6 561.4 920.7 C564.2 917.8 565.7 916 567.2 915.4Z" fill="white" stroke="#151515" stroke-width="1.9"/>
<path d="M565.5 919 C566.3 919 570 918.8 571.5 919.3 C573 919.8 575.6 921.7 576.5 923 C577.4 924.3 578.5 927.7 578.6 929 C578.7 930.3 578.3 931.7 577.6 933 C576.9 934.3 576.3 935.2 573.5 938.5 C570.7 941.8 558.8 955 556.5 957.5" fill="none" stroke="#151515" stroke-width="1"/>
<path d="M563.5 921.5 C560.9 924.4 540.4 946.5 537.5 950 C534.6 953.5 535.1 955.2 535 956.5 C534.9 957.8 535 960 536 962.5 C537 965 543.5 979.6 545 982 C546.5 984.4 550.4 985.6 551 986" fill="none" stroke="#151515" stroke-width="1"/>
<path d="M541.5 947.5 L548.5 953 L546.5 960 L539 955.5" fill="none" stroke="#151515" stroke-width="1"/>
<path d="M548.5 953 L570.5 929.5" fill="none" stroke="#151515" stroke-width="1.6"/>
<path d="M551 957.5 L573 933.5" fill="none" stroke="#151515" stroke-width="1"/>
<path d="M556 935 L558 940.5" fill="none" stroke="#151515" stroke-width="1.3"/>
<ellipse cx="557.3" cy="934.3" rx="1.3" ry="0.8" transform="rotate(20 557.3 934.3)" fill="#151515" stroke="#151515" stroke-width="0.6"/>
<ellipse cx="556.6" cy="969.2" rx="7.4" ry="5.4" transform="rotate(-35 556.6 969.2)" fill="white" stroke="#151515" stroke-width="1.3"/>
<ellipse cx="555" cy="971.2" rx="7.4" ry="5.4" transform="rotate(-35 555 971.2)" fill="white" stroke="#151515" stroke-width="1"/>
<ellipse cx="553.6" cy="973" rx="7.4" ry="5.4" transform="rotate(-35 553.6 973)" fill="white" stroke="#151515" stroke-width="1"/>
<path d="M541.5 968 L545.5 976 L543 979" fill="none" stroke="#151515" stroke-width="1.3"/>
<path d="M545 974 L550 981 L554 979.5 L556.5 984 L553 987.5" fill="none" stroke="#151515" stroke-width="1.2"/>
<path d="M546 962 L549 969 L546.5 973" fill="none" stroke="#151515" stroke-width="1.2"/>
<path d="M512 950.5 L515.4 947.6 L522.6 951.4 L524.5 959.1 L521.6 963.9 L515.4 960.1Z" fill="white" stroke="#151515" stroke-width="1.1"/>
<path d="M512 950.5 L515.4 947.6 L518.6 956.2 L515.4 960.1Z" fill="#333" stroke="#151515" stroke-width="0.8"/>
<path d="M518.6 956.2 L524.5 959.1" fill="none" stroke="#151515" stroke-width="0.8"/>
<path d="M489 930 L507 913.5 L515 917.5 L520 926 L502 943 L497 940.5Z" fill="white" stroke="#151515" stroke-width="1"/>
<path d="M489 930 L497 933.6 L502 943" fill="none" stroke="#151515" stroke-width="1"/>
<path d="M497 933.6 L515 917.5" fill="none" stroke="#151515" stroke-width="1"/>
<path d="M507 913.5 L511 909.8 L515.6 912 L518.6 910 L520.8 916 L516.5 920Z" fill="white" stroke="#151515" stroke-width="0.9"/>
<ellipse cx="494.3" cy="934.5" rx="1.3" ry="1" fill="white" stroke="#151515" stroke-width="0.8"/>
<ellipse cx="499.6" cy="939" rx="1.3" ry="1" fill="white" stroke="#151515" stroke-width="0.8"/>
<path d="M488.7 864.3 C489.6 864.3 492.8 865.2 493.5 865.7 C494.2 866.2 495 868.8 495.4 869.6 C495.8 870.4 497.6 872.4 497.8 873.4 C498 874.4 497.9 878.9 497.4 880.1 C496.9 881.4 495.6 882.7 492.6 885.9 C489.6 889.1 469.8 908.2 467.6 911.8 C465.4 915.3 469.9 919.8 470.5 921.4 C471.1 923 473.2 926.9 473.4 928.1 C473.6 929.4 473 932.8 472.4 933.9 C471.8 935 468.6 938.3 467.6 938.7 C466.6 939.1 463.3 938.6 462.3 938.2 C461.3 937.8 459.2 937.4 458 934.8 C456.8 932.2 450.6 914.8 449.8 911.8 C449 908.8 449.9 906.4 450.3 905.1 C450.7 903.8 450.7 902.3 454.2 898.4 C457.7 894.5 481.4 869.1 484.9 865.7 C488.3 862.3 487.8 864.3 488.7 864.3Z" fill="white" stroke="#151515" stroke-width="1.3"/>
<path d="M482.3 880.6 C482 880.2 481.5 879.3 482.6 877.6 C483.7 875.9 489.3 869.4 490.6 868 C491.9 866.6 492.3 867.2 492.6 867.4 C492.9 867.6 494.1 867.9 493 869.6 C491.9 871.3 486 878.9 484.6 880.4 C483.2 881.9 482.6 881 482.3 880.6Z" fill="white" stroke="#151515" stroke-width="0.9"/>
<path d="M494.5 870.5 L492.6 872.8 L466.6 908.2 L466 910.6" fill="none" stroke="#151515" stroke-width="0.9"/>
<path d="M466.6 910.8 L492.1 884.9" fill="none" stroke="#151515" stroke-width="0.9"/>
<ellipse cx="487.8" cy="869" rx="1.2" ry="1.4" fill="white" stroke="#151515" stroke-width="0.8"/>
<ellipse cx="491.2" cy="879" rx="1.1" ry="1.3" fill="white" stroke="#151515" stroke-width="0.8"/>
<ellipse cx="455.8" cy="901" rx="1.3" ry="1.5" fill="white" stroke="#151515" stroke-width="0.8"/>
<ellipse cx="464.2" cy="911.6" rx="1.3" ry="1.2" fill="white" stroke="#151515" stroke-width="0.8"/>
<ellipse cx="460.8" cy="919.6" rx="1.6" ry="2.6" transform="rotate(25 460.8 919.6)" fill="#333" stroke="#151515" stroke-width="0.8"/>
<ellipse cx="466.2" cy="932.6" rx="1.2" ry="1.6" fill="white" stroke="#151515" stroke-width="0.8"/>
<ellipse cx="470.2" cy="896.6" rx="1.6" ry="0.8" transform="rotate(10 470.2 896.6)" fill="#151515" stroke="#151515" stroke-width="0.6"/>
<path d="M466.8 912.5 L469.5 922 L472.3 928.5" fill="none" stroke="#151515" stroke-width="1.6"/>
<path d="M462.3 935.5 C462.8 935.7 464.3 936.9 465.5 936.5 C466.7 936.1 468.8 934.3 469.6 933 C470.5 931.7 470.4 929.3 470.6 928.6" fill="none" stroke="#151515" stroke-width="0.9"/>
<path d="M453.1 850 L461.2 854.4 L464.3 854.3 L462.8 851.6 L454.8 847Z" fill="white" stroke="#151515" stroke-width="1"/>
<ellipse cx="452.2" cy="847.5" rx="3" ry="3.4" transform="rotate(25 452.2 847.5)" fill="white" stroke="#151515" stroke-width="1.3"/>
<ellipse cx="451.9" cy="847.5" rx="1.3" ry="1.6" transform="rotate(25 451.9 847.5)" fill="#333" stroke="#151515" stroke-width="0.6"/>
<path d="M457 859.6 L465 864 L468.1 863.9 L466.6 861.2 L458.7 856.6Z" fill="white" stroke="#151515" stroke-width="1"/>
<ellipse cx="456.1" cy="857.1" rx="3" ry="3.4" transform="rotate(25 456.1 857.1)" fill="white" stroke="#151515" stroke-width="1.3"/>
<ellipse cx="455.8" cy="857.1" rx="1.3" ry="1.6" transform="rotate(25 455.8 857.1)" fill="#333" stroke="#151515" stroke-width="0.6"/>
<path d="M421.5 881.7 L429.5 886.1 L432.6 886 L431.1 883.3 L423.2 878.7Z" fill="white" stroke="#151515" stroke-width="1"/>
<ellipse cx="420.6" cy="879.2" rx="3" ry="3.4" transform="rotate(25 420.6 879.2)" fill="white" stroke="#151515" stroke-width="1.3"/>
<ellipse cx="420.3" cy="879.2" rx="1.3" ry="1.6" transform="rotate(25 420.3 879.2)" fill="#333" stroke="#151515" stroke-width="0.6"/>
<path d="M429.6 892.7 L437.7 897.1 L440.8 897 L439.3 894.3 L431.3 889.7Z" fill="white" stroke="#151515" stroke-width="1"/>
<ellipse cx="428.7" cy="890.2" rx="3" ry="3.4" transform="rotate(25 428.7 890.2)" fill="white" stroke="#151515" stroke-width="1.3"/>
<ellipse cx="428.4" cy="890.2" rx="1.3" ry="1.6" transform="rotate(25 428.4 890.2)" fill="#333" stroke="#151515" stroke-width="0.6"/>
<path d="M431.5 912.9 L439.6 917.3 L442.7 917.2 L441.2 914.5 L433.2 909.9Z" fill="white" stroke="#151515" stroke-width="1"/>
<ellipse cx="430.6" cy="910.4" rx="3" ry="3.4" transform="rotate(25 430.6 910.4)" fill="white" stroke="#151515" stroke-width="1.3"/>
<ellipse cx="430.3" cy="910.4" rx="1.3" ry="1.6" transform="rotate(25 430.3 910.4)" fill="#333" stroke="#151515" stroke-width="0.6"/>
<g font-family="Liberation Serif, serif" opacity="0.999">
<text x="21.2" y="419.7" font-size="30.5" textLength="33.8" lengthAdjust="spacingAndGlyphs" fill="#3b62b1">38</text>
<path d="M34.3 423.3 L51.2 423.3 L76.8 523.4" fill="none" stroke="#3b62b1" stroke-width="1.1"/>
<text x="156.7" y="419.7" font-size="30.5" textLength="34" lengthAdjust="spacingAndGlyphs" fill="#3b62b1">37</text>
<path d="M169.7 423.3 L186.4 423.3 L223 562" fill="none" stroke="#3b62b1" stroke-width="1.1"/>
<text x="297" y="419.7" font-size="30.5" textLength="34" lengthAdjust="spacingAndGlyphs" fill="#3b62b1">36</text>
<path d="M309.6 423.3 L326.6 423.3 L388.5 628" fill="none" stroke="#3b62b1" stroke-width="1.1"/>
<text x="364" y="419.7" font-size="30.5" textLength="33.6" lengthAdjust="spacingAndGlyphs" fill="#3b62b1">35</text>
<path d="M376.2 423.3 L393 423.3 L437.6 627.2" fill="none" stroke="#3b62b1" stroke-width="1.1"/>
<text x="433" y="419.7" font-size="30.5" textLength="34" lengthAdjust="spacingAndGlyphs" fill="#3b62b1">34</text>
<path d="M445.4 423.3 L462 423.3 L505.6 527.6" fill="none" stroke="#3b62b1" stroke-width="1.1"/>
<text x="489.6" y="419.7" font-size="30.5" textLength="33.4" lengthAdjust="spacingAndGlyphs" fill="#3b62b1">33</text>
<path d="M502 423.3 L519 423.3 L558.4 533.2" fill="none" stroke="#3b62b1" stroke-width="1.1"/>
<text x="547" y="419.7" font-size="30.5" textLength="34" lengthAdjust="spacingAndGlyphs" fill="#3b62b1">32</text>
<path d="M560 423.3 L577.4 423.3 L626.4 549.2" fill="none" stroke="#3b62b1" stroke-width="1.1"/>
<text x="610.6" y="419.7" font-size="30.5" textLength="31.8" lengthAdjust="spacingAndGlyphs" fill="#3b62b1">31</text>
<path d="M623 423.3 L640.4 423.3 L690 563.7" fill="none" stroke="#3b62b1" stroke-width="1.1"/>
<text x="674" y="419.7" font-size="30.5" textLength="33.6" lengthAdjust="spacingAndGlyphs" fill="#3b62b1">30</text>
<path d="M686.6 423.3 L703.4 423.3 L715.3 570" fill="none" stroke="#3b62b1" stroke-width="1.1"/>
<text x="752.4" y="419.7" font-size="30.5" textLength="33.6" lengthAdjust="spacingAndGlyphs" fill="#3b62b1">29</text>
<path d="M770.4 423.3 L753.6 423.3 L736 570.7" fill="none" stroke="#3b62b1" stroke-width="1.1"/>
<text x="792" y="419.7" font-size="30.5" textLength="34.4" lengthAdjust="spacingAndGlyphs" fill="#3b62b1">28</text>
<path d="M810.6 423.3 L793 423.3 L759.2 582.9" fill="none" stroke="#3b62b1" stroke-width="1.1"/>
<text x="837" y="419.7" font-size="30.5" textLength="34" lengthAdjust="spacingAndGlyphs" fill="#3b62b1">27</text>
<path d="M855 423.3 L838 423.3 L779.7 582.9" fill="none" stroke="#3b62b1" stroke-width="1.1"/>
<text x="882" y="419.7" font-size="30.5" textLength="33.6" lengthAdjust="spacingAndGlyphs" fill="#3b62b1">26</text>
<path d="M900 423.3 L883 423.3 L817.6 560" fill="none" stroke="#3b62b1" stroke-width="1.1"/>
<text x="882.4" y="488.2" font-size="30.5" textLength="33.4" lengthAdjust="spacingAndGlyphs" fill="#3b62b1">25</text>
<path d="M900 491.4 L883 491.4 L825 582" fill="none" stroke="#3b62b1" stroke-width="1.1"/>
<text x="882.4" y="541.2" font-size="30.5" textLength="33.4" lengthAdjust="spacingAndGlyphs" fill="#3b62b1">24</text>
<path d="M900 544.6 L883 544.6 L824 611" fill="none" stroke="#3b62b1" stroke-width="1.1"/>
<text x="882.4" y="582.2" font-size="30.5" textLength="33.4" lengthAdjust="spacingAndGlyphs" fill="#3b62b1">23</text>
<path d="M900 585.4 L883 585.4 L828 641" fill="none" stroke="#3b62b1" stroke-width="1.1"/>
<text x="1229.6" y="494.2" font-size="30.5" textLength="10.4" lengthAdjust="spacingAndGlyphs" fill="#3b62b1">1</text>
<path d="M1242 495.6 L1226 495.6 L1105.8 428" fill="none" stroke="#3b62b1" stroke-width="1.1"/>
<path d="M1226 495.6 L1119.4 378.1" fill="none" stroke="#3b62b1" stroke-width="1.1"/>
<text x="1226" y="536.2" font-size="30.5" textLength="16" lengthAdjust="spacingAndGlyphs" fill="#3b62b1">2</text>
<path d="M1242 538.4 L1225.6 538.4 L1078 458.7" fill="none" stroke="#3b62b1" stroke-width="1.1"/>
<text x="1227" y="583.8" font-size="30.5" textLength="14" lengthAdjust="spacingAndGlyphs" fill="#3b62b1">3</text>
<path d="M1242 585.6 L1225.6 585.6 L1063.1 481.7" fill="none" stroke="#3b62b1" stroke-width="1.1"/>
<text x="1226.4" y="640.2" font-size="30.5" textLength="16" lengthAdjust="spacingAndGlyphs" fill="#3b62b1">4</text>
<path d="M1243.6 643 L1225.6 643 L1076.5 521.3 L1041.6 491.8" fill="none" stroke="#3b62b1" stroke-width="1.1"/>
<text x="1228" y="901.2" font-size="30.5" textLength="15" lengthAdjust="spacingAndGlyphs" fill="#3b62b1">5</text>
<path d="M1243.6 905.4 L1225.6 905.4 L991.5 602.2 L968.6 569.7" fill="none" stroke="#3b62b1" stroke-width="1.1"/>
<text x="1227" y="1021.4" font-size="30.5" textLength="16" lengthAdjust="spacingAndGlyphs" fill="#3b62b1">6</text>
<path d="M1244.4 1023.6 L1226 1023.6 L833.2 742.8" fill="none" stroke="#3b62b1" stroke-width="1.1"/>
<text x="1095.6" y="1021.4" font-size="30.5" textLength="15.4" lengthAdjust="spacingAndGlyphs" fill="#3b62b1">7</text>
<path d="M1113.6 1023.6 L1095 1023.6 L820.8 819.2" fill="none" stroke="#3b62b1" stroke-width="1.1"/>
<text x="952" y="1021.4" font-size="30.5" textLength="15" lengthAdjust="spacingAndGlyphs" fill="#3b62b1">8</text>
<path d="M969 1024 L951 1024 L777 800.6" fill="none" stroke="#3b62b1" stroke-width="1.1"/>
<text x="865.6" y="1021.4" font-size="30.5" textLength="15.4" lengthAdjust="spacingAndGlyphs" fill="#3b62b1">9</text>
<path d="M883 1024 L865 1024 L744.6 812.6" fill="none" stroke="#3b62b1" stroke-width="1.1"/>
<text x="783.2" y="1021.4" font-size="30.5" textLength="32.8" lengthAdjust="spacingAndGlyphs" fill="#3b62b1">10</text>
<path d="M801.6 1024 L783.6 1024 L714 850.4" fill="none" stroke="#3b62b1" stroke-width="1.1"/>
<text x="695.2" y="1021.4" font-size="30.5" textLength="31.8" lengthAdjust="spacingAndGlyphs" fill="#3b62b1">11</text>
<path d="M714 1024 L696 1024 L658 911 L638 888" fill="none" stroke="#3b62b1" stroke-width="1.1"/>
<text x="637.2" y="1021.4" font-size="30.5" textLength="33.8" lengthAdjust="spacingAndGlyphs" fill="#3b62b1">12</text>
<path d="M656 1024 L639 1024 L558 935" fill="none" stroke="#3b62b1" stroke-width="1.1"/>
<text x="556.2" y="1021.4" font-size="30.5" textLength="32.8" lengthAdjust="spacingAndGlyphs" fill="#3b62b1">13</text>
<path d="M574.4 1024 L557 1024 L523 957" fill="none" stroke="#3b62b1" stroke-width="1.1"/>
<text x="512.2" y="1021.4" font-size="30.5" textLength="32.8" lengthAdjust="spacingAndGlyphs" fill="#3b62b1">14</text>
<path d="M530.4 1024 L513 1024 L493 934.4" fill="none" stroke="#3b62b1" stroke-width="1.1"/>
<text x="419.2" y="1019.9" font-size="30.5" textLength="33.2" lengthAdjust="spacingAndGlyphs" fill="#3b62b1">15</text>
<path d="M437 1024.4 L455 1024.4 L470 897" fill="none" stroke="#3b62b1" stroke-width="1.1"/>
<text x="370.2" y="1021.4" font-size="30.5" textLength="32.8" lengthAdjust="spacingAndGlyphs" fill="#3b62b1">16</text>
<path d="M385 1024.4 L403 1024.4 L437 915" fill="none" stroke="#3b62b1" stroke-width="1.1"/>
<text x="263" y="823.2" font-size="30.5" textLength="34" lengthAdjust="spacingAndGlyphs" fill="#3b62b1">22</text>
<path d="M274.4 826.2 L293 826.2 L479 665" fill="none" stroke="#3b62b1" stroke-width="1.1"/>
<text x="338" y="823.2" font-size="30.5" textLength="32" lengthAdjust="spacingAndGlyphs" fill="#3b62b1">21</text>
<path d="M350 826.2 L368 826.2 L545 686" fill="none" stroke="#3b62b1" stroke-width="1.1"/>
<text x="397" y="823.2" font-size="30.5" textLength="33" lengthAdjust="spacingAndGlyphs" fill="#3b62b1">20</text>
<path d="M408 826.2 L426 826.2 L589.6 695.6" fill="none" stroke="#3b62b1" stroke-width="1.1"/>
<text x="448.2" y="823.2" font-size="30.5" textLength="34.8" lengthAdjust="spacingAndGlyphs" fill="#3b62b1">19</text>
<path d="M461 826.2 L479 826.2 L631 699" fill="none" stroke="#3b62b1" stroke-width="1.1"/>
<text x="497.2" y="823.2" font-size="30.5" textLength="31.8" lengthAdjust="spacingAndGlyphs" fill="#3b62b1">18</text>
<path d="M509 826.2 L527 826.2 L655.6 721" fill="none" stroke="#3b62b1" stroke-width="1.1"/>
<text x="552.2" y="823.2" font-size="30.5" textLength="32.8" lengthAdjust="spacingAndGlyphs" fill="#3b62b1">17</text>
<path d="M565 826.2 L582.4 826.2 L613 803.6" fill="none" stroke="#3b62b1" stroke-width="1.1"/>
</g>
<path d="M1118.3 231.2 L1119.4 378.1" fill="none" stroke="#3b62b1" stroke-width="1.1"/>
<path d="M1118.3 231.2 L1042 343.3" fill="none" stroke="#3b62b1" stroke-width="1.1"/>
<path d="M1118.5 262.4 L1048.2 356" fill="none" stroke="#3b62b1" stroke-width="1.1"/>
<path d="M1118.7 290.7 L1060.5 369.3" fill="none" stroke="#3b62b1" stroke-width="1.1"/>
<path d="M1119 322.6 L1064 374.6" fill="none" stroke="#3b62b1" stroke-width="1.1"/>
<path d="M1119.2 350.4 L1068.8 379" fill="none" stroke="#3b62b1" stroke-width="1.1"/>
<path d="M1119.4 378.1 L1052.1 395.7" fill="none" stroke="#3b62b1" stroke-width="1.1"/>
<path d="M1076.5 521.3 L1014.4 580.6" fill="none" stroke="#3b62b1" stroke-width="1.1"/>
<path d="M1031.2 503.3 L1066.6 530.3" fill="none" stroke="#3b62b1" stroke-width="1.1"/>
<path d="M1019.8 508 L1055.5 541.6" fill="none" stroke="#3b62b1" stroke-width="1.1"/>
<path d="M1009.9 521.5 L1040.6 555.3" fill="none" stroke="#3b62b1" stroke-width="1.1"/>
<path d="M998.3 533.2 L1027.6 567.8" fill="none" stroke="#3b62b1" stroke-width="1.1"/>
<path d="M987.2 547 L1014.4 580.6" fill="none" stroke="#3b62b1" stroke-width="1.1"/>
<path d="M991.5 602.2 L921 669.4" fill="none" stroke="#3b62b1" stroke-width="1.1"/>
<path d="M945 582 L974.7 617.3" fill="none" stroke="#3b62b1" stroke-width="1.1"/>
<path d="M933.8 598.8 L962.4 629.6" fill="none" stroke="#3b62b1" stroke-width="1.1"/>
<path d="M918.2 611.7 L947.3 643.6" fill="none" stroke="#3b62b1" stroke-width="1.1"/>
<path d="M907.5 617.3 L937.2 653.1" fill="none" stroke="#3b62b1" stroke-width="1.1"/>
<path d="M887.9 636.3 L921 669.4" fill="none" stroke="#3b62b1" stroke-width="1.1"/>
<path d="M694 874 L623 946.6" fill="none" stroke="#3b62b1" stroke-width="1.1"/>
<path d="M673 848 L694 874" fill="none" stroke="#3b62b1" stroke-width="1.1"/>
<path d="M654 870 L675.6 892" fill="none" stroke="#3b62b1" stroke-width="1.1"/>
<path d="M626 898 L645.6 922.4" fill="none" stroke="#3b62b1" stroke-width="1.1"/>
<path d="M618 905 L638 930.4" fill="none" stroke="#3b62b1" stroke-width="1.1"/>
<path d="M602 924 L623 946.6" fill="none" stroke="#3b62b1" stroke-width="1.1"/>
</svg></body></html>
